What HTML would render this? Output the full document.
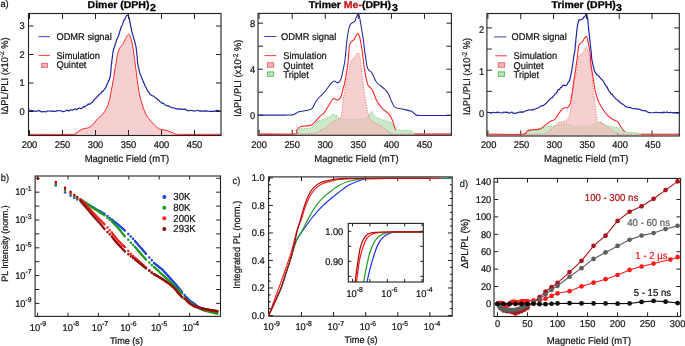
<!DOCTYPE html>
<html><head><meta charset="utf-8"><style>
html,body{margin:0;padding:0;background:#fff;}
body{width:685px;height:346px;overflow:hidden;}
svg{display:block;font-family:"Liberation Sans", sans-serif;will-change:transform;}
text{stroke-width:0.22px;text-rendering:geometricPrecision;}
text:not([stroke]){stroke:#141414;}
</style></head><body>
<svg width="685" height="346" viewBox="0 0 685 346">
<rect width="685" height="346" fill="#fff"/>
<path d="M29,134.3 C36.17,134.3 64.17,134.52 72,134.3 C79.83,134.08 74.47,133.78 76,133 C77.53,132.22 79.7,130.37 81.2,129.6 C82.7,128.83 83.83,128.7 85,128.4 C86.17,128.1 86.9,128.4 88.2,127.8 C89.5,127.2 91.27,126.27 92.8,124.8 C94.33,123.33 95.47,121.13 97.4,119 C99.33,116.87 102.47,114.88 104.4,112 C106.33,109.12 107.73,105.87 109,101.7 C110.27,97.53 111.2,91.18 112,87 C112.8,82.82 113.2,80.17 113.8,76.6 C114.4,73.03 114.98,69.25 115.6,65.6 C116.22,61.95 116.83,57.6 117.5,54.7 C118.17,51.8 118.8,49.82 119.6,48.2 C120.4,46.58 121.68,45.8 122.3,45 C122.92,44.2 122.72,44.52 123.3,43.4 C123.88,42.28 125.05,39.73 125.8,38.3 C126.55,36.87 127.2,35.43 127.8,34.8 C128.4,34.17 128.88,33.92 129.4,34.5 C129.92,35.08 130.4,36.65 130.9,38.3 C131.4,39.95 131.95,42.07 132.4,44.4 C132.85,46.73 133.15,49.17 133.6,52.3 C134.05,55.43 134.58,59.35 135.1,63.2 C135.62,67.05 136.2,71.55 136.7,75.4 C137.2,79.25 137.43,82.3 138.1,86.3 C138.77,90.3 139.48,94.92 140.7,99.4 C141.92,103.88 143.67,109.55 145.4,113.2 C147.13,116.85 148.98,118.78 151.1,121.3 C153.22,123.82 156.35,126.95 158.1,128.3 C159.85,129.65 160.05,129.02 161.6,129.4 C163.15,129.78 165.28,129.93 167.4,130.6 C169.52,131.27 172.38,132.78 174.3,133.4 C176.22,134.02 171.12,134.15 178.9,134.3 C186.68,134.45 213.98,134.3 221,134.3 L221,135.5 L28.5,135.5 Z" stroke="none" stroke-width="1" fill="#f2b9b9" fill-opacity="0.673"/>
<path d="M29,109.98 L30.59,110.38 L32.27,110.68 L33.99,111.13 L35.43,111.02 L36.8,111.52 L38.28,110.38 L40,111.15 L41.61,111.92 L43.52,111.51 L45.62,111.91 L47.81,110.73 L49.98,111.27 L52,110.92 L53.89,111.35 L55.74,111.37 L57.56,110.5 L59.37,110.76 L61.18,110.78 L63,111.62 L64.89,111.25 L66.85,110.17 L68.81,110.92 L70.7,109.71 L72.46,110.2 L74,109.24 L75.3,108.83 L76.91,109.78 L78.26,108.42 L79.55,108.02 L80.91,108.7 L82.26,108.01 L83.52,106.58 L84.66,107.06 L85.9,105.8 L87.11,105.3 L88.21,103.94 L89.36,104.49 L90.5,103.29 L91.97,102.49 L93.18,101.36 L94.47,99.36 L95.73,98.33 L96.89,96.98 L97.87,96.01 L98.76,94.97 L99.98,93.98 L101.06,93.2 L102,91.26 L102.99,91.31 L104.06,89.78 L104.88,88.59 L105.59,88.03 L106.2,86.27 L106.92,84.51 L107.49,83.49 L108.05,82.54 L108.57,80.34 L109.23,80.23 L109.83,77.26 L110.2,76.97 L110.47,75.52 L110.65,72.53 L110.76,72.44 L110.87,70.48 L111,69.42 L111.15,67.07 L111.31,65.52 L111.47,64.05 L111.64,63.52 L111.82,60.72 L112,59.98 L112.18,58.73 L112.36,57.25 L112.55,54.89 L112.75,53.49 L112.96,52.4 L113.2,51.51 L113.61,48.79 L114.07,48.19 L114.54,46.82 L115,45.54 L115.41,43.09 L115.94,43.02 L116.53,40.15 L117.07,39.03 L117.68,37.72 L118.11,36.97 L118.55,34.87 L118.99,34.53 L119.42,32.77 L119.86,31.2 L120.31,29.97 L120.75,28.54 L121.19,27.2 L121.8,25.67 L122.34,25.04 L122.84,24.2 L123.31,21.74 L123.97,20.04 L124.63,19.99 L125.3,17.99 L125.97,16.71 L126.86,15.31 L127.92,15.13 L128.64,16.55 L128.97,17.21 L129.23,18.42 L129.5,19.34 L129.79,22.2 L130.12,22.48 L130.47,24.88 L130.85,27.21 L131.12,27.39 L131.4,29.55 L131.7,31.17 L132.02,32.04 L132.35,33.64 L132.69,34 L133.04,35.86 L133.4,36.77 L133.78,39.1 L134.19,39.51 L134.6,40.98 L135,43.05 L135.38,44.13 L135.7,45.71 L135.96,46.42 L136.18,48.02 L136.37,49.99 L136.54,51.27 L136.71,52.68 L136.9,54.56 L137.09,55.96 L137.28,58.19 L137.46,61.03 L137.66,62.88 L137.87,64.17 L138.1,65.6 L138.36,66.8 L138.63,67.73 L139.07,69.78 L139.55,72.22 L140.08,74 L140.69,74.81 L141.33,76.95 L141.98,78.41 L142.6,79.8 L143.18,81.28 L143.75,82.95 L144.35,83.88 L145.04,85.92 L145.81,86.9 L146.63,88.82 L147.46,90.74 L148.25,91.86 L149.1,92.45 L150.05,94.44 L151.1,94.92 L152.59,96 L153.77,96.01 L155.03,97.71 L156.3,98.16 L157.53,99.65 L158.65,100.14 L159.68,101.45 L160.67,101.96 L162.19,103.29 L163.28,103.31 L164.5,104.42 L165.81,105.18 L167.17,105.91 L168.6,105.75 L170.13,107.02 L171.79,107.57 L173.6,107.78 L175.64,108.68 L177.9,109.11 L180.29,108.88 L182.71,109.3 L185.04,109.1 L187.2,110.4 L189.02,110.79 L190.56,110.26 L192.01,110.71 L193.6,110.84 L195.53,110.95 L198,110.21 L199.56,111.17 L201.39,110.93 L203.43,111.11 L205.61,110.79 L207.88,111.14 L210.18,111.41 L212.43,111.25 L214.59,111.41 L216.58,110.41 L218.36,110.64 L219.85,111.09 L221,111.43" stroke="#1f27a3" stroke-width="1.2" fill="none" stroke-linejoin="round"/>
<path d="M29,134.3 C36.17,134.3 64.17,134.52 72,134.3 C79.83,134.08 74.47,133.78 76,133 C77.53,132.22 79.7,130.37 81.2,129.6 C82.7,128.83 83.83,128.7 85,128.4 C86.17,128.1 86.9,128.4 88.2,127.8 C89.5,127.2 91.27,126.27 92.8,124.8 C94.33,123.33 95.47,121.13 97.4,119 C99.33,116.87 102.47,114.88 104.4,112 C106.33,109.12 107.73,105.87 109,101.7 C110.27,97.53 111.2,91.18 112,87 C112.8,82.82 113.2,80.17 113.8,76.6 C114.4,73.03 114.98,69.25 115.6,65.6 C116.22,61.95 116.83,57.6 117.5,54.7 C118.17,51.8 118.8,49.82 119.6,48.2 C120.4,46.58 121.68,45.8 122.3,45 C122.92,44.2 122.72,44.52 123.3,43.4 C123.88,42.28 125.05,39.73 125.8,38.3 C126.55,36.87 127.2,35.43 127.8,34.8 C128.4,34.17 128.88,33.92 129.4,34.5 C129.92,35.08 130.4,36.65 130.9,38.3 C131.4,39.95 131.95,42.07 132.4,44.4 C132.85,46.73 133.15,49.17 133.6,52.3 C134.05,55.43 134.58,59.35 135.1,63.2 C135.62,67.05 136.2,71.55 136.7,75.4 C137.2,79.25 137.43,82.3 138.1,86.3 C138.77,90.3 139.48,94.92 140.7,99.4 C141.92,103.88 143.67,109.55 145.4,113.2 C147.13,116.85 148.98,118.78 151.1,121.3 C153.22,123.82 156.35,126.95 158.1,128.3 C159.85,129.65 160.05,129.02 161.6,129.4 C163.15,129.78 165.28,129.93 167.4,130.6 C169.52,131.27 172.38,132.78 174.3,133.4 C176.22,134.02 171.12,134.15 178.9,134.3 C186.68,134.45 213.98,134.3 221,134.3" stroke="#ff2828" stroke-width="1.0" fill="none" />
<rect x="28.5" y="13.5" width="192.5" height="122" fill="none" stroke="#222" stroke-width="1.1"/>
<line x1="29.5" y1="135.5" x2="29.5" y2="130" stroke="#222" stroke-width="1.0"/>
<line x1="29.5" y1="13.5" x2="29.5" y2="19" stroke="#222" stroke-width="1.0"/>
<line x1="62.5" y1="135.5" x2="62.5" y2="130" stroke="#222" stroke-width="1.0"/>
<line x1="62.5" y1="13.5" x2="62.5" y2="19" stroke="#222" stroke-width="1.0"/>
<line x1="95.5" y1="135.5" x2="95.5" y2="130" stroke="#222" stroke-width="1.0"/>
<line x1="95.5" y1="13.5" x2="95.5" y2="19" stroke="#222" stroke-width="1.0"/>
<line x1="128.5" y1="135.5" x2="128.5" y2="130" stroke="#222" stroke-width="1.0"/>
<line x1="128.5" y1="13.5" x2="128.5" y2="19" stroke="#222" stroke-width="1.0"/>
<line x1="161.5" y1="135.5" x2="161.5" y2="130" stroke="#222" stroke-width="1.0"/>
<line x1="161.5" y1="13.5" x2="161.5" y2="19" stroke="#222" stroke-width="1.0"/>
<line x1="194.5" y1="135.5" x2="194.5" y2="130" stroke="#222" stroke-width="1.0"/>
<line x1="194.5" y1="13.5" x2="194.5" y2="19" stroke="#222" stroke-width="1.0"/>
<line x1="28.5" y1="111.5" x2="33.5" y2="111.5" stroke="#222" stroke-width="1.0"/>
<line x1="221" y1="111.5" x2="216" y2="111.5" stroke="#222" stroke-width="1.0"/>
<line x1="28.5" y1="83" x2="33.5" y2="83" stroke="#222" stroke-width="1.0"/>
<line x1="221" y1="83" x2="216" y2="83" stroke="#222" stroke-width="1.0"/>
<line x1="28.5" y1="54.5" x2="33.5" y2="54.5" stroke="#222" stroke-width="1.0"/>
<line x1="221" y1="54.5" x2="216" y2="54.5" stroke="#222" stroke-width="1.0"/>
<line x1="28.5" y1="26" x2="33.5" y2="26" stroke="#222" stroke-width="1.0"/>
<line x1="221" y1="26" x2="216" y2="26" stroke="#222" stroke-width="1.0"/>
<text transform="translate(29.5,147.5) scale(0.95,1)" font-size="9.8" text-anchor="middle" fill="#141414" stroke="#141414" font-weight="normal" >200</text>
<text transform="translate(62.5,147.5) scale(0.95,1)" font-size="9.8" text-anchor="middle" fill="#141414" stroke="#141414" font-weight="normal" >250</text>
<text transform="translate(95.5,147.5) scale(0.95,1)" font-size="9.8" text-anchor="middle" fill="#141414" stroke="#141414" font-weight="normal" >300</text>
<text transform="translate(128.5,147.5) scale(0.95,1)" font-size="9.8" text-anchor="middle" fill="#141414" stroke="#141414" font-weight="normal" >350</text>
<text transform="translate(161.5,147.5) scale(0.95,1)" font-size="9.8" text-anchor="middle" fill="#141414" stroke="#141414" font-weight="normal" >400</text>
<text transform="translate(194.5,147.5) scale(0.95,1)" font-size="9.8" text-anchor="middle" fill="#141414" stroke="#141414" font-weight="normal" >450</text>
<text transform="translate(24.8,114.8) scale(0.95,1)" font-size="9.8" text-anchor="end" fill="#141414" stroke="#141414" font-weight="normal" >0</text>
<text transform="translate(24.8,86.3) scale(0.95,1)" font-size="9.8" text-anchor="end" fill="#141414" stroke="#141414" font-weight="normal" >1</text>
<text transform="translate(24.8,57.8) scale(0.95,1)" font-size="9.8" text-anchor="end" fill="#141414" stroke="#141414" font-weight="normal" >2</text>
<text transform="translate(24.8,29.3) scale(0.95,1)" font-size="9.8" text-anchor="end" fill="#141414" stroke="#141414" font-weight="normal" >3</text>
<text transform="translate(126.9,162.2) scale(0.95,1)" font-size="10.01" text-anchor="middle" fill="#141414" stroke="#141414" font-weight="normal" >Magnetic Field (mT)</text>
<text transform="translate(7.6,76) rotate(-90) scale(0.95,1)" font-size="9.8" text-anchor="middle" fill="#141414" stroke="#141414" font-weight="normal" >IΔPL/PLI (x10<tspan font-size="6.9" dy="-3.4">-2</tspan><tspan dy="3.4"> %)</tspan></text>
<text transform="translate(87.6,8.1) scale(1.06,1)" font-size="9.92" text-anchor="start" fill="#000" stroke="#000" font-weight="bold" style="stroke-width:0.3px">Dimer (DPH)</text>
<text transform="translate(149.9,10.6) scale(1.06,1)" font-size="10.02" text-anchor="start" fill="#000" stroke="#000" font-weight="bold" style="stroke-width:0.3px">2</text>
<text transform="translate(0.4,7.1) scale(0.95,1)" font-size="9.8" text-anchor="start" fill="#141414" stroke="#141414" font-weight="normal" >a)</text>
<line x1="38.4" y1="36.7" x2="49.9" y2="36.7" stroke="#3b48bb" stroke-width="1.0"/>
<text transform="translate(56.4,39.9) scale(0.95,1)" font-size="9.8" text-anchor="start" fill="#141414" stroke="#141414" font-weight="normal" >ODMR signal</text>
<line x1="38.4" y1="55.4" x2="49.9" y2="55.4" stroke="#ff3c3c" stroke-width="1.0"/>
<text transform="translate(56.4,58.5) scale(0.95,1)" font-size="9.8" text-anchor="start" fill="#141414" stroke="#141414" font-weight="normal" >Simulation</text>
<rect x="41.6" y="63.3" width="5.8" height="4.0" fill="#f2b8b8" stroke="#e86060" stroke-width="0.9"/>
<text transform="translate(56.4,68) scale(0.95,1)" font-size="9.8" text-anchor="start" fill="#141414" stroke="#141414" font-weight="normal" >Quintet</text>
<line x1="259.1" y1="135.3" x2="259.1" y2="129.8" stroke="#222" stroke-width="1.0"/>
<line x1="259.1" y1="13.4" x2="259.1" y2="18.9" stroke="#222" stroke-width="1.0"/>
<line x1="292.18" y1="135.3" x2="292.18" y2="129.8" stroke="#222" stroke-width="1.0"/>
<line x1="292.18" y1="13.4" x2="292.18" y2="18.9" stroke="#222" stroke-width="1.0"/>
<line x1="325.25" y1="135.3" x2="325.25" y2="129.8" stroke="#222" stroke-width="1.0"/>
<line x1="325.25" y1="13.4" x2="325.25" y2="18.9" stroke="#222" stroke-width="1.0"/>
<line x1="358.33" y1="135.3" x2="358.33" y2="129.8" stroke="#222" stroke-width="1.0"/>
<line x1="358.33" y1="13.4" x2="358.33" y2="18.9" stroke="#222" stroke-width="1.0"/>
<line x1="391.4" y1="135.3" x2="391.4" y2="129.8" stroke="#222" stroke-width="1.0"/>
<line x1="391.4" y1="13.4" x2="391.4" y2="18.9" stroke="#222" stroke-width="1.0"/>
<line x1="424.48" y1="135.3" x2="424.48" y2="129.8" stroke="#222" stroke-width="1.0"/>
<line x1="424.48" y1="13.4" x2="424.48" y2="18.9" stroke="#222" stroke-width="1.0"/>
<line x1="258" y1="115.2" x2="263" y2="115.2" stroke="#222" stroke-width="1.0"/>
<line x1="451.4" y1="115.2" x2="446.4" y2="115.2" stroke="#222" stroke-width="1.0"/>
<line x1="258" y1="92.2" x2="263" y2="92.2" stroke="#222" stroke-width="1.0"/>
<line x1="451.4" y1="92.2" x2="446.4" y2="92.2" stroke="#222" stroke-width="1.0"/>
<line x1="258" y1="69.2" x2="263" y2="69.2" stroke="#222" stroke-width="1.0"/>
<line x1="451.4" y1="69.2" x2="446.4" y2="69.2" stroke="#222" stroke-width="1.0"/>
<line x1="258" y1="46.2" x2="263" y2="46.2" stroke="#222" stroke-width="1.0"/>
<line x1="451.4" y1="46.2" x2="446.4" y2="46.2" stroke="#222" stroke-width="1.0"/>
<line x1="258" y1="23.2" x2="263" y2="23.2" stroke="#222" stroke-width="1.0"/>
<line x1="451.4" y1="23.2" x2="446.4" y2="23.2" stroke="#222" stroke-width="1.0"/>
<path d="M258.5,134 C264.42,134 287.58,134.62 294,134 C300.42,133.38 296,131.17 297,130.3 C298,129.43 298.75,129.08 300,128.8 C301.25,128.52 302.73,128.75 304.5,128.6 C306.27,128.45 308.97,128.53 310.6,127.9 C312.23,127.27 313.18,125.9 314.3,124.8 C315.42,123.7 315.92,122.17 317.3,121.3 C318.68,120.43 320.72,120.27 322.6,119.6 C324.48,118.93 326.85,118.18 328.6,117.3 C330.35,116.42 331.72,114.55 333.1,114.3 C334.48,114.05 335.77,115.17 336.9,115.8 C338.03,116.43 338.55,117.55 339.9,118.1 C341.25,118.65 342.48,118.92 345,119.1 C347.52,119.28 352,119.25 355,119.2 C358,119.15 360.92,119.08 363,118.8 C365.08,118.52 366.1,118.67 367.5,117.5 C368.9,116.33 370.08,111.93 371.4,111.8 C372.72,111.67 373.57,115.38 375.4,116.7 C377.23,118.02 379.88,118.82 382.4,119.7 C384.92,120.58 388.73,121.12 390.5,122 C392.27,122.88 392.23,123.77 393,125 C393.77,126.23 393.93,128.53 395.1,129.4 C396.27,130.27 397.5,130.02 400,130.2 C402.5,130.38 407.63,129.95 410.1,130.5 C412.57,131.05 413.48,132.92 414.8,133.5 C416.12,134.08 411.97,133.92 418,134 C424.03,134.08 445.5,134 451,134 L451,135 L258.5,135 Z" stroke="none" stroke-width="1" fill="#cbe9cb" />
<path d="M258.5,134 C264.42,134 287.58,134.62 294,134 C300.42,133.38 296,131.17 297,130.3 C298,129.43 298.75,129.08 300,128.8 C301.25,128.52 302.73,128.75 304.5,128.6 C306.27,128.45 308.97,128.53 310.6,127.9 C312.23,127.27 313.18,125.9 314.3,124.8 C315.42,123.7 315.92,122.17 317.3,121.3 C318.68,120.43 320.72,120.27 322.6,119.6 C324.48,118.93 326.85,118.18 328.6,117.3 C330.35,116.42 331.72,114.55 333.1,114.3 C334.48,114.05 335.77,115.17 336.9,115.8 C338.03,116.43 338.55,117.55 339.9,118.1 C341.25,118.65 342.48,118.92 345,119.1 C347.52,119.28 352,119.25 355,119.2 C358,119.15 360.92,119.08 363,118.8 C365.08,118.52 366.1,118.67 367.5,117.5 C368.9,116.33 370.08,111.93 371.4,111.8 C372.72,111.67 373.57,115.38 375.4,116.7 C377.23,118.02 379.88,118.82 382.4,119.7 C384.92,120.58 388.73,121.12 390.5,122 C392.27,122.88 392.23,123.77 393,125 C393.77,126.23 393.93,128.53 395.1,129.4 C396.27,130.27 397.5,130.02 400,130.2 C402.5,130.38 407.63,129.95 410.1,130.5 C412.57,131.05 413.48,132.92 414.8,133.5 C416.12,134.08 411.97,133.92 418,134 C424.03,134.08 445.5,134 451,134" stroke="#55bb55" stroke-width="0.9" fill="none" stroke-dasharray="1,1.6"/>
<path d="M258.5,134 C264.42,134 286.25,134.03 294,134 C301.75,133.97 301.48,133.95 305,133.8 C308.52,133.65 312.42,133.72 315.1,133.1 C317.78,132.48 319.35,130.97 321.1,130.1 C322.85,129.23 324.1,128.9 325.6,127.9 C327.1,126.9 328.6,125.23 330.1,124.1 C331.6,122.97 333.1,121.98 334.6,121.1 C336.1,120.22 337.97,119.8 339.1,118.8 C340.23,117.8 340.72,118.23 341.4,115.1 C342.08,111.97 342.5,105.02 343.2,100 C343.9,94.98 344.78,89.28 345.6,85 C346.42,80.72 347.28,78.12 348.1,74.3 C348.92,70.48 349.7,64.63 350.5,62.1 C351.3,59.57 352.08,60.1 352.9,59.1 C353.72,58.1 354.62,57.12 355.4,56.1 C356.18,55.08 356.9,53.2 357.6,53 C358.3,52.8 359.07,53.17 359.6,54.9 C360.13,56.63 360.4,60.17 360.8,63.4 C361.2,66.63 361.53,70.47 362,74.3 C362.47,78.13 363.07,82.45 363.6,86.4 C364.13,90.35 364.67,94.4 365.2,98 C365.73,101.6 366.23,105.17 366.8,108 C367.37,110.83 367.92,112.97 368.6,115 C369.28,117.03 369.75,118.83 370.9,120.2 C372.05,121.57 373.98,122.33 375.5,123.2 C377.02,124.07 378.08,124.22 380,125.4 C381.92,126.58 385.07,128.95 387,130.3 C388.93,131.65 390.1,132.88 391.6,133.5 C393.1,134.12 386.1,133.92 396,134 C405.9,134.08 441.83,134 451,134 L451,135 L258.5,135 Z" stroke="none" stroke-width="1" fill="#f2b9b9" fill-opacity="0.673"/>
<path d="M258.5,134 C264.42,134 286.25,134.03 294,134 C301.75,133.97 301.48,133.95 305,133.8 C308.52,133.65 312.42,133.72 315.1,133.1 C317.78,132.48 319.35,130.97 321.1,130.1 C322.85,129.23 324.1,128.9 325.6,127.9 C327.1,126.9 328.6,125.23 330.1,124.1 C331.6,122.97 333.1,121.98 334.6,121.1 C336.1,120.22 337.97,119.8 339.1,118.8 C340.23,117.8 340.72,118.23 341.4,115.1 C342.08,111.97 342.5,105.02 343.2,100 C343.9,94.98 344.78,89.28 345.6,85 C346.42,80.72 347.28,78.12 348.1,74.3 C348.92,70.48 349.7,64.63 350.5,62.1 C351.3,59.57 352.08,60.1 352.9,59.1 C353.72,58.1 354.62,57.12 355.4,56.1 C356.18,55.08 356.9,53.2 357.6,53 C358.3,52.8 359.07,53.17 359.6,54.9 C360.13,56.63 360.4,60.17 360.8,63.4 C361.2,66.63 361.53,70.47 362,74.3 C362.47,78.13 363.07,82.45 363.6,86.4 C364.13,90.35 364.67,94.4 365.2,98 C365.73,101.6 366.23,105.17 366.8,108 C367.37,110.83 367.92,112.97 368.6,115 C369.28,117.03 369.75,118.83 370.9,120.2 C372.05,121.57 373.98,122.33 375.5,123.2 C377.02,124.07 378.08,124.22 380,125.4 C381.92,126.58 385.07,128.95 387,130.3 C388.93,131.65 390.1,132.88 391.6,133.5 C393.1,134.12 386.1,133.92 396,134 C405.9,134.08 441.83,134 451,134" stroke="#e86060" stroke-width="0.9" fill="none" stroke-dasharray="1,1.6"/>
<path d="M258.5,115.1 C262.92,115.1 279.58,115.12 285,115.1 C290.42,115.08 289.5,115.12 291,115 C292.5,114.88 293.08,114.73 294,114.4 C294.92,114.07 295.67,113.45 296.5,113 C297.33,112.55 297.92,112.03 299,111.7 C300.08,111.37 301.57,111.23 303,111 C304.43,110.77 306.22,110.62 307.6,110.3 C308.98,109.98 310.3,109.8 311.3,109.1 C312.3,108.4 312.85,107.37 313.6,106.1 C314.35,104.83 314.8,103.02 315.8,101.5 C316.8,99.98 318.22,98.5 319.6,97 C320.98,95.5 322.8,93.95 324.1,92.5 C325.4,91.05 326.23,89.82 327.4,88.3 C328.57,86.78 329.98,84.62 331.1,83.4 C332.22,82.18 333.1,81.13 334.1,81 C335.1,80.87 336.18,82.5 337.1,82.6 C338.02,82.7 338.88,82.38 339.6,81.6 C340.32,80.82 340.8,79.93 341.4,77.9 C342,75.87 342.6,72.43 343.2,69.4 C343.8,66.37 344.37,64.62 345,59.7 C345.63,54.78 346.37,45.02 347,39.9 C347.63,34.78 348.2,31.63 348.8,29 C349.4,26.37 349.88,25.22 350.6,24.1 C351.32,22.98 352.38,22.8 353.1,22.3 C353.82,21.8 354.4,21.8 354.9,21.1 C355.4,20.4 355.6,19.32 356.1,18.1 C356.6,16.88 357.38,14.22 357.9,13.8 C358.42,13.38 358.78,14.28 359.2,15.6 C359.62,16.92 360,19.47 360.4,21.7 C360.8,23.93 361.1,25.97 361.6,29 C362.1,32.03 362.92,36.4 363.4,39.9 C363.88,43.4 364.12,47.1 364.5,50 C364.88,52.9 365.3,54.67 365.7,57.3 C366.1,59.93 366.4,63.68 366.9,65.8 C367.4,67.92 367.98,68.98 368.7,70 C369.42,71.02 370.48,71.08 371.2,71.9 C371.92,72.72 372.3,73.48 373,74.9 C373.7,76.32 374.5,78.88 375.4,80.4 C376.3,81.92 377.28,82.9 378.4,84 C379.52,85.1 381,86.08 382.1,87 C383.2,87.92 383.98,88.42 385,89.5 C386.02,90.58 387.1,91.48 388.2,93.5 C389.3,95.52 390.45,99.28 391.6,101.6 C392.75,103.92 393.17,106.12 395.1,107.4 C397.03,108.68 400.5,108.65 403.2,109.3 C405.9,109.95 409.18,110.38 411.3,111.3 C413.42,112.22 414.45,114.12 415.9,114.8 C417.35,115.48 414.15,115.3 420,115.4 C425.85,115.5 445.83,115.4 451,115.4" stroke="#1f27a3" stroke-width="1.05" fill="none" />
<path d="M258.5,134 C264.42,134 287.7,134.52 294,134 C300.3,133.48 295.42,132.05 296.3,130.9 C297.18,129.75 298.18,127.9 299.3,127.1 C300.42,126.3 301.62,126.3 303,126.1 C304.38,125.9 306.13,126.12 307.6,125.9 C309.07,125.68 310.55,125.48 311.8,124.8 C313.05,124.12 313.8,123.17 315.1,121.8 C316.4,120.43 318.1,118.1 319.6,116.6 C321.1,115.1 322.72,114.43 324.1,112.8 C325.48,111.17 326.65,108.8 327.9,106.8 C329.15,104.8 330.6,102.18 331.6,100.8 C332.6,99.42 333.02,98.63 333.9,98.5 C334.78,98.37 336.03,99.87 336.9,100 C337.77,100.13 338.35,100.05 339.1,99.3 C339.85,98.55 340.77,97.13 341.4,95.5 C342.03,93.87 342.4,91.42 342.9,89.5 C343.4,87.58 343.83,86.53 344.4,84 C344.97,81.47 345.68,77.95 346.3,74.3 C346.92,70.65 347.58,66.82 348.1,62.1 C348.62,57.38 348.87,49.38 349.4,46 C349.93,42.62 350.58,42.82 351.3,41.8 C352.02,40.78 353,40.72 353.7,39.9 C354.4,39.08 354.9,37.9 355.5,36.9 C356.1,35.9 356.8,34.37 357.3,33.9 C357.8,33.43 358.08,33.5 358.5,34.1 C358.92,34.7 359.38,35.92 359.8,37.5 C360.22,39.08 360.63,41.52 361,43.6 C361.37,45.68 361.62,47.32 362,50 C362.38,52.68 362.88,56.47 363.3,59.7 C363.72,62.93 364,66.15 364.5,69.4 C365,72.65 365.7,76.57 366.3,79.2 C366.9,81.83 367.4,83.78 368.1,85.2 C368.8,86.62 369.68,86.68 370.5,87.7 C371.32,88.72 371.98,89.17 373,91.3 C374.02,93.43 375.03,97.62 376.6,100.5 C378.17,103.38 380.28,106.3 382.4,108.6 C384.52,110.9 387.57,112.18 389.3,114.3 C391.03,116.42 391.83,118.87 392.8,121.3 C393.77,123.73 394.53,127.52 395.1,128.9 C395.67,130.28 396.02,129.48 396.2,129.6" stroke="#ff2828" stroke-width="1.1" fill="none" />
<path d="M414.8,134 L451,134" stroke="#ff2828" stroke-width="1.1" fill="none" />
<rect x="258" y="13.4" width="193.4" height="121.9" fill="none" stroke="#222" stroke-width="1.1"/>
<text transform="translate(259.1,147.5) scale(0.95,1)" font-size="9.8" text-anchor="middle" fill="#141414" stroke="#141414" font-weight="normal" >200</text>
<text transform="translate(292.18,147.5) scale(0.95,1)" font-size="9.8" text-anchor="middle" fill="#141414" stroke="#141414" font-weight="normal" >250</text>
<text transform="translate(325.25,147.5) scale(0.95,1)" font-size="9.8" text-anchor="middle" fill="#141414" stroke="#141414" font-weight="normal" >300</text>
<text transform="translate(358.33,147.5) scale(0.95,1)" font-size="9.8" text-anchor="middle" fill="#141414" stroke="#141414" font-weight="normal" >350</text>
<text transform="translate(391.4,147.5) scale(0.95,1)" font-size="9.8" text-anchor="middle" fill="#141414" stroke="#141414" font-weight="normal" >400</text>
<text transform="translate(424.48,147.5) scale(0.95,1)" font-size="9.8" text-anchor="middle" fill="#141414" stroke="#141414" font-weight="normal" >450</text>
<text transform="translate(255.3,119.3) scale(0.95,1)" font-size="9.8" text-anchor="end" fill="#141414" stroke="#141414" font-weight="normal" >0</text>
<text transform="translate(255.3,73.3) scale(0.95,1)" font-size="9.8" text-anchor="end" fill="#141414" stroke="#141414" font-weight="normal" >4</text>
<text transform="translate(255.3,27.3) scale(0.95,1)" font-size="9.8" text-anchor="end" fill="#141414" stroke="#141414" font-weight="normal" >8</text>
<text transform="translate(356.5,162.2) scale(0.95,1)" font-size="10.01" text-anchor="middle" fill="#141414" stroke="#141414" font-weight="normal" >Magnetic Field (mT)</text>
<text transform="translate(241.2,78.2) rotate(-90) scale(0.95,1)" font-size="9.8" text-anchor="middle" fill="#141414" stroke="#141414" font-weight="normal" >IΔPL/PLI (x10<tspan font-size="6.9" dy="-3.4">-2</tspan><tspan dy="3.4"> %)</tspan></text>
<text transform="translate(308.8,8.1) scale(1.06,1)" font-size="9.92" text-anchor="start" fill="#000" stroke="#000" font-weight="bold" style="stroke-width:0.3px">Trimer <tspan fill="#c41a1a" stroke="#c41a1a">Me-</tspan>(DPH)</text>
<text transform="translate(391.9,10.6) scale(1.06,1)" font-size="10.02" text-anchor="start" fill="#000" stroke="#000" font-weight="bold" style="stroke-width:0.3px">3</text>
<line x1="264.3" y1="36.5" x2="276.5" y2="36.5" stroke="#3b48bb" stroke-width="1.0"/>
<text transform="translate(281,39.8) scale(0.95,1)" font-size="9.8" text-anchor="start" fill="#141414" stroke="#141414" font-weight="normal" >ODMR signal</text>
<line x1="264.5" y1="55.6" x2="276.3" y2="55.6" stroke="#ff3c3c" stroke-width="1.0"/>
<text transform="translate(283.3,58.8) scale(0.95,1)" font-size="9.8" text-anchor="start" fill="#141414" stroke="#141414" font-weight="normal" >Simulation</text>
<rect x="267.4" y="62.8" width="6.3" height="4.4" fill="#f2b8b8" stroke="#e86060" stroke-width="0.9"/>
<text transform="translate(283.3,68.5) scale(0.95,1)" font-size="9.8" text-anchor="start" fill="#141414" stroke="#141414" font-weight="normal" >Quintet</text>
<rect x="267.4" y="71.9" width="6.3" height="4.4" fill="#bfe3bf" stroke="#55bb55" stroke-width="0.9"/>
<text transform="translate(283.3,77.6) scale(0.95,1)" font-size="9.8" text-anchor="start" fill="#141414" stroke="#141414" font-weight="normal" >Triplet</text>
<line x1="487.9" y1="136" x2="487.9" y2="130.5" stroke="#222" stroke-width="1.0"/>
<line x1="487.9" y1="13.5" x2="487.9" y2="19" stroke="#222" stroke-width="1.0"/>
<line x1="520.74" y1="136" x2="520.74" y2="130.5" stroke="#222" stroke-width="1.0"/>
<line x1="520.74" y1="13.5" x2="520.74" y2="19" stroke="#222" stroke-width="1.0"/>
<line x1="553.57" y1="136" x2="553.57" y2="130.5" stroke="#222" stroke-width="1.0"/>
<line x1="553.57" y1="13.5" x2="553.57" y2="19" stroke="#222" stroke-width="1.0"/>
<line x1="586.4" y1="136" x2="586.4" y2="130.5" stroke="#222" stroke-width="1.0"/>
<line x1="586.4" y1="13.5" x2="586.4" y2="19" stroke="#222" stroke-width="1.0"/>
<line x1="619.24" y1="136" x2="619.24" y2="130.5" stroke="#222" stroke-width="1.0"/>
<line x1="619.24" y1="13.5" x2="619.24" y2="19" stroke="#222" stroke-width="1.0"/>
<line x1="652.07" y1="136" x2="652.07" y2="130.5" stroke="#222" stroke-width="1.0"/>
<line x1="652.07" y1="13.5" x2="652.07" y2="19" stroke="#222" stroke-width="1.0"/>
<line x1="486.9" y1="112.5" x2="491.9" y2="112.5" stroke="#222" stroke-width="1.0"/>
<line x1="679.3" y1="112.5" x2="674.3" y2="112.5" stroke="#222" stroke-width="1.0"/>
<line x1="486.9" y1="91.35" x2="491.9" y2="91.35" stroke="#222" stroke-width="1.0"/>
<line x1="679.3" y1="91.35" x2="674.3" y2="91.35" stroke="#222" stroke-width="1.0"/>
<line x1="486.9" y1="70.2" x2="491.9" y2="70.2" stroke="#222" stroke-width="1.0"/>
<line x1="679.3" y1="70.2" x2="674.3" y2="70.2" stroke="#222" stroke-width="1.0"/>
<line x1="486.9" y1="49.05" x2="491.9" y2="49.05" stroke="#222" stroke-width="1.0"/>
<line x1="679.3" y1="49.05" x2="674.3" y2="49.05" stroke="#222" stroke-width="1.0"/>
<line x1="486.9" y1="27.9" x2="491.9" y2="27.9" stroke="#222" stroke-width="1.0"/>
<line x1="679.3" y1="27.9" x2="674.3" y2="27.9" stroke="#222" stroke-width="1.0"/>
<path d="M487.2,134.2 C493,134.2 515.28,134.62 522,134.2 C528.72,133.78 525.23,132.45 527.5,131.7 C529.77,130.95 533.23,130.37 535.6,129.7 C537.97,129.03 539.68,128.2 541.7,127.7 C543.72,127.2 545.35,127.03 547.7,126.7 C550.05,126.37 553.1,126.22 555.8,125.7 C558.5,125.18 561.2,123.6 563.9,123.6 C566.6,123.6 569.32,125.25 572,125.7 C574.68,126.15 577.12,126.27 580,126.3 C582.88,126.33 586.22,126.58 589.3,125.9 C592.38,125.22 595.42,122.2 598.5,122.2 C601.58,122.2 604.72,125.02 607.8,125.9 C610.88,126.78 614.32,126.53 617,127.5 C619.68,128.47 621.73,130.85 623.9,131.7 C626.07,132.55 627.68,132.42 630,132.6 C632.32,132.78 635.53,132.53 637.8,132.8 C640.07,133.07 636.67,133.97 643.6,134.2 C650.53,134.43 673.43,134.2 679.4,134.2 L679.4,135.5 L487.2,135.5 Z" stroke="none" stroke-width="1" fill="#cbe9cb" />
<path d="M487.2,134.2 C493,134.2 515.28,134.62 522,134.2 C528.72,133.78 525.23,132.45 527.5,131.7 C529.77,130.95 533.23,130.37 535.6,129.7 C537.97,129.03 539.68,128.2 541.7,127.7 C543.72,127.2 545.35,127.03 547.7,126.7 C550.05,126.37 553.1,126.22 555.8,125.7 C558.5,125.18 561.2,123.6 563.9,123.6 C566.6,123.6 569.32,125.25 572,125.7 C574.68,126.15 577.12,126.27 580,126.3 C582.88,126.33 586.22,126.58 589.3,125.9 C592.38,125.22 595.42,122.2 598.5,122.2 C601.58,122.2 604.72,125.02 607.8,125.9 C610.88,126.78 614.32,126.53 617,127.5 C619.68,128.47 621.73,130.85 623.9,131.7 C626.07,132.55 627.68,132.42 630,132.6 C632.32,132.78 635.53,132.53 637.8,132.8 C640.07,133.07 636.67,133.97 643.6,134.2 C650.53,134.43 673.43,134.2 679.4,134.2" stroke="#55bb55" stroke-width="0.9" fill="none" stroke-dasharray="1,1.6"/>
<path d="M487.2,134.2 C493,134.2 514.03,134.23 522,134.2 C529.97,134.17 531.38,134.07 535,134 C538.62,133.93 541.53,134.17 543.7,133.8 C545.87,133.43 546.32,132.85 548,131.8 C549.68,130.75 552.25,128.92 553.8,127.5 C555.35,126.08 555.98,124.25 557.3,123.3 C558.62,122.35 560.25,122.28 561.7,121.8 C563.15,121.32 564.8,121.23 566,120.4 C567.2,119.57 568.05,119.08 568.9,116.8 C569.75,114.52 570.5,110.8 571.1,106.7 C571.7,102.6 571.97,96.32 572.5,92.2 C573.03,88.08 573.7,84.98 574.3,82 C574.9,79.02 575.4,78.42 576.1,74.3 C576.8,70.18 577.68,60.63 578.5,57.3 C579.32,53.97 580.08,55.32 581,54.3 C581.92,53.28 583.17,52.35 584,51.2 C584.83,50.05 585.18,47 586,47.4 C586.82,47.8 588.22,51.15 588.9,53.6 C589.58,56.05 589.6,58.65 590.1,62.1 C590.6,65.55 591.4,70.15 591.9,74.3 C592.4,78.45 592.67,82.83 593.1,87 C593.53,91.17 593.8,93.78 594.5,99.3 C595.2,104.82 596.25,116.25 597.3,120.1 C598.35,123.95 599.05,121.23 600.8,122.4 C602.55,123.57 605.48,125.55 607.8,127.1 C610.12,128.65 612.83,130.58 614.7,131.7 C616.57,132.82 617.85,133.38 619,133.8 C620.15,134.22 611.53,134.13 621.6,134.2 C631.67,134.27 669.77,134.2 679.4,134.2 L679.4,135.5 L487.2,135.5 Z" stroke="none" stroke-width="1" fill="#f2b9b9" fill-opacity="0.673"/>
<path d="M487.2,134.2 C493,134.2 514.03,134.23 522,134.2 C529.97,134.17 531.38,134.07 535,134 C538.62,133.93 541.53,134.17 543.7,133.8 C545.87,133.43 546.32,132.85 548,131.8 C549.68,130.75 552.25,128.92 553.8,127.5 C555.35,126.08 555.98,124.25 557.3,123.3 C558.62,122.35 560.25,122.28 561.7,121.8 C563.15,121.32 564.8,121.23 566,120.4 C567.2,119.57 568.05,119.08 568.9,116.8 C569.75,114.52 570.5,110.8 571.1,106.7 C571.7,102.6 571.97,96.32 572.5,92.2 C573.03,88.08 573.7,84.98 574.3,82 C574.9,79.02 575.4,78.42 576.1,74.3 C576.8,70.18 577.68,60.63 578.5,57.3 C579.32,53.97 580.08,55.32 581,54.3 C581.92,53.28 583.17,52.35 584,51.2 C584.83,50.05 585.18,47 586,47.4 C586.82,47.8 588.22,51.15 588.9,53.6 C589.58,56.05 589.6,58.65 590.1,62.1 C590.6,65.55 591.4,70.15 591.9,74.3 C592.4,78.45 592.67,82.83 593.1,87 C593.53,91.17 593.8,93.78 594.5,99.3 C595.2,104.82 596.25,116.25 597.3,120.1 C598.35,123.95 599.05,121.23 600.8,122.4 C602.55,123.57 605.48,125.55 607.8,127.1 C610.12,128.65 612.83,130.58 614.7,131.7 C616.57,132.82 617.85,133.38 619,133.8 C620.15,134.22 611.53,134.13 621.6,134.2 C631.67,134.27 669.77,134.2 679.4,134.2" stroke="#e86060" stroke-width="0.9" fill="none" stroke-dasharray="1,1.6"/>
<path d="M487.2,112.33 L489.02,112.51 L491.53,113.06 L492.98,112.44 L494.51,112.52 L496.11,112.65 L497.73,112.11 L499.36,112.58 L500.97,112.76 L502.53,113 L504,112.03 L505.46,112.33 L507,112.05 L508.57,113.07 L510.17,112.92 L511.78,112.02 L513.37,113.35 L514.92,113.33 L516.41,112.89 L517.83,112.81 L519.15,112.14 L521.4,111.82 L523.05,112.34 L524.64,111.26 L526.1,110.77 L527.5,110.34 L528.78,109.72 L530.19,110 L531.66,109.63 L533.1,109.85 L534.44,109.06 L536.09,108.73 L537.29,108.09 L538.57,107.71 L540,106.64 L541.35,105.64 L542.81,105.79 L544.32,104.84 L545.8,103.58 L547.25,102.25 L548.22,100.89 L549.19,99.92 L550.16,99.11 L551.12,97.88 L552.08,97.88 L553.06,96.3 L554.05,95.81 L555.02,94.02 L555.97,93.7 L556.87,92.48 L557.72,90.31 L558.55,89.62 L559.34,89.63 L560.45,87.68 L561.42,87.34 L562.54,85.7 L563.8,85.1 L565.29,85.62 L566.5,85.5 L567.48,83.92 L568.2,82.22 L568.75,81.43 L569.38,80.94 L570.01,79.02 L570.41,76.85 L570.78,75.6 L571.13,73.7 L571.46,71.76 L571.78,70.83 L572.09,68.02 L572.37,66.72 L572.62,64.93 L572.85,63.05 L573.05,62.35 L573.24,60.12 L573.42,59.49 L573.6,57.42 L573.8,56.54 L574.01,55 L574.33,53.27 L574.64,52.48 L574.9,50.42 L575.1,47.95 L575.24,47.05 L575.39,44.23 L575.52,43.05 L575.69,42.02 L575.89,39.76 L576.1,36.84 L576.34,35.85 L576.57,32.61 L576.79,30.72 L577,29.79 L577.21,27.69 L577.41,26.31 L577.7,24.24 L578,22.77 L578.29,22.23 L578.76,20.36 L579.57,19.89 L580.79,19.79 L581.84,19.21 L582.75,18.9 L583.7,17.34 L584.66,16.56 L585.34,15.91 L585.95,13.87 L586.88,14.68 L587.31,17.23 L587.6,18.54 L587.83,19.52 L587.96,20.82 L588.08,23.08 L588.2,24.9 L588.33,25.41 L588.48,28 L588.63,29.48 L588.8,30.7 L588.97,32.09 L589.14,33.29 L589.31,34.84 L589.49,37.76 L589.67,38.4 L589.86,40.71 L590.05,41.74 L590.24,44.15 L590.42,45.39 L590.58,46.44 L590.75,47.72 L590.91,49.88 L591.06,50.31 L591.21,51.82 L591.4,54.08 L591.52,56.01 L591.59,56.98 L591.69,57.82 L591.9,60.28 L592.12,60.58 L592.4,61.78 L592.72,63.68 L593.05,65.45 L593.38,66.34 L593.7,67.75 L594.12,69.55 L594.52,71.13 L595.12,71.95 L595.94,73.42 L597.21,75 L598.32,75.89 L599.17,76.39 L600.06,77.64 L600.97,78.8 L601.89,79.48 L602.81,80.53 L603.71,81.61 L604.63,84 L605.57,85 L606.54,86.91 L607.16,86.76 L607.8,88.86 L608.48,89.91 L609.24,91.51 L610.1,92.15 L611.07,94.27 L612.11,94.12 L613.23,95.93 L614.42,97.34 L615.68,98.71 L617,99.63 L618.39,100.8 L619.84,102.2 L621.36,103.64 L622.95,104.07 L624.59,105.64 L626.3,106.86 L628.09,107.51 L629.97,107.39 L631.91,108.31 L633.88,108.75 L635.85,108.68 L637.8,109.17 L639.69,109.35 L641.55,110.19 L643.41,110.79 L645.31,110.59 L647.29,111.84 L649.4,112.69 L651.65,112.76 L654.01,112.68 L656.46,112.27 L658.96,112.78 L660.22,112.57 L661.49,112.38 L662.75,112.95 L664,111.92 L665.3,112.88 L666.7,111.89 L668.15,112.72 L669.64,112.57 L671.14,112.24 L672.61,112.91 L674.03,112.64 L675.38,112.82 L677.72,113.27 L679.4,112.36 L679.4,112.02" stroke="#1f27a3" stroke-width="1.2" fill="none" stroke-linejoin="round"/>
<path d="M487.2,134.2 C493,134.2 515.28,134.78 522,134.2 C528.72,133.62 525.57,131.45 527.5,130.7 C529.43,129.95 531.52,129.97 533.6,129.7 C535.68,129.43 537.97,129.93 540,129.1 C542.03,128.27 544,126.03 545.8,124.7 C547.6,123.37 549.35,121.93 550.8,121.1 C552.25,120.27 553.28,120.78 554.5,119.7 C555.72,118.62 556.9,116.28 558.1,114.6 C559.3,112.92 560.62,110.73 561.7,109.6 C562.78,108.47 563.63,108.13 564.6,107.8 C565.57,107.47 566.67,108.03 567.5,107.6 C568.33,107.17 569,106.55 569.6,105.2 C570.2,103.85 570.62,101.9 571.1,99.5 C571.58,97.1 572.1,93.55 572.5,90.8 C572.9,88.05 573,86.37 573.5,83 C574,79.63 574.87,74.88 575.5,70.6 C576.13,66.32 576.77,61.4 577.3,57.3 C577.83,53.2 578.17,48.33 578.7,46 C579.23,43.67 579.9,44 580.5,43.3 C581.1,42.6 581.68,42.57 582.3,41.8 C582.92,41.03 583.58,39.62 584.2,38.7 C584.82,37.78 585.5,36.4 586,36.3 C586.5,36.2 586.8,36.88 587.2,38.1 C587.6,39.32 587.9,40.95 588.4,43.6 C588.9,46.25 589.82,50.92 590.2,54 C590.58,57.08 590.32,58.72 590.7,62.1 C591.08,65.48 591.9,70.45 592.5,74.3 C593.1,78.15 593.8,82.25 594.3,85.2 C594.8,88.15 594.8,89.27 595.5,92 C596.2,94.73 597.23,98.65 598.5,101.6 C599.77,104.55 601.37,107.18 603.1,109.7 C604.83,112.22 607.17,115.03 608.9,116.7 C610.63,118.37 611.95,118.75 613.5,119.7 C615.05,120.65 616.85,120.98 618.2,122.4 C619.55,123.82 620.5,126.63 621.6,128.2 C622.7,129.77 624.27,131.2 624.8,131.8" stroke="#ff2828" stroke-width="1.1" fill="none" />
<path d="M641,134.3 L679.3,134.3" stroke="#ff2828" stroke-width="1.1" fill="none" />
<rect x="486.9" y="13.5" width="192.4" height="122.5" fill="none" stroke="#222" stroke-width="1.1"/>
<text transform="translate(488.7,148) scale(0.95,1)" font-size="9.8" text-anchor="middle" fill="#141414" stroke="#141414" font-weight="normal" >200</text>
<text transform="translate(521.53,148) scale(0.95,1)" font-size="9.8" text-anchor="middle" fill="#141414" stroke="#141414" font-weight="normal" >250</text>
<text transform="translate(554.37,148) scale(0.95,1)" font-size="9.8" text-anchor="middle" fill="#141414" stroke="#141414" font-weight="normal" >300</text>
<text transform="translate(587.2,148) scale(0.95,1)" font-size="9.8" text-anchor="middle" fill="#141414" stroke="#141414" font-weight="normal" >350</text>
<text transform="translate(620.04,148) scale(0.95,1)" font-size="9.8" text-anchor="middle" fill="#141414" stroke="#141414" font-weight="normal" >400</text>
<text transform="translate(652.87,148) scale(0.95,1)" font-size="9.8" text-anchor="middle" fill="#141414" stroke="#141414" font-weight="normal" >450</text>
<text transform="translate(484.3,117.25) scale(0.95,1)" font-size="9.8" text-anchor="end" fill="#141414" stroke="#141414" font-weight="normal" >0</text>
<text transform="translate(484.3,74.95) scale(0.95,1)" font-size="9.8" text-anchor="end" fill="#141414" stroke="#141414" font-weight="normal" >1</text>
<text transform="translate(484.3,32.65) scale(0.95,1)" font-size="9.8" text-anchor="end" fill="#141414" stroke="#141414" font-weight="normal" >2</text>
<text transform="translate(586.3,162.2) scale(0.95,1)" font-size="10.01" text-anchor="middle" fill="#141414" stroke="#141414" font-weight="normal" >Magnetic Field (mT)</text>
<text transform="translate(470.2,76.4) rotate(-90) scale(0.95,1)" font-size="9.8" text-anchor="middle" fill="#141414" stroke="#141414" font-weight="normal" >IΔPL/PLI (x10<tspan font-size="6.9" dy="-3.4">-2</tspan><tspan dy="3.4"> %)</tspan></text>
<text transform="translate(551.6,8) scale(1.06,1)" font-size="9.92" text-anchor="start" fill="#000" stroke="#000" font-weight="bold" style="stroke-width:0.3px">Trimer (DPH)</text>
<text transform="translate(615.9,10.5) scale(1.06,1)" font-size="10.02" text-anchor="start" fill="#000" stroke="#000" font-weight="bold" style="stroke-width:0.3px">3</text>
<line x1="494.2" y1="36.9" x2="506.4" y2="36.9" stroke="#3b48bb" stroke-width="1.0"/>
<text transform="translate(511.5,40.2) scale(0.95,1)" font-size="9.8" text-anchor="start" fill="#141414" stroke="#141414" font-weight="normal" >ODMR signal</text>
<line x1="495.2" y1="55.8" x2="507" y2="55.8" stroke="#ff3c3c" stroke-width="1.0"/>
<text transform="translate(513.6,59) scale(0.95,1)" font-size="9.8" text-anchor="start" fill="#141414" stroke="#141414" font-weight="normal" >Simulation</text>
<rect x="498.3" y="62.8" width="6.3" height="4.4" fill="#f2b8b8" stroke="#e86060" stroke-width="0.9"/>
<text transform="translate(513.6,68.5) scale(0.95,1)" font-size="9.8" text-anchor="start" fill="#141414" stroke="#141414" font-weight="normal" >Quintet</text>
<rect x="498.3" y="71.9" width="6.3" height="4.4" fill="#bfe3bf" stroke="#55bb55" stroke-width="0.9"/>
<text transform="translate(513.6,77.6) scale(0.95,1)" font-size="9.8" text-anchor="start" fill="#141414" stroke="#141414" font-weight="normal" >Triplet</text>
<rect x="35.1" y="176" width="185.4" height="140.4" fill="none" stroke="#222" stroke-width="1.1"/>
<line x1="37.6" y1="316.4" x2="37.6" y2="312.8" stroke="#222" stroke-width="1.0"/>
<line x1="37.6" y1="176" x2="37.6" y2="179.6" stroke="#222" stroke-width="1.0"/>
<line x1="68" y1="316.4" x2="68" y2="312.8" stroke="#222" stroke-width="1.0"/>
<line x1="68" y1="176" x2="68" y2="179.6" stroke="#222" stroke-width="1.0"/>
<line x1="98.4" y1="316.4" x2="98.4" y2="312.8" stroke="#222" stroke-width="1.0"/>
<line x1="98.4" y1="176" x2="98.4" y2="179.6" stroke="#222" stroke-width="1.0"/>
<line x1="128.8" y1="316.4" x2="128.8" y2="312.8" stroke="#222" stroke-width="1.0"/>
<line x1="128.8" y1="176" x2="128.8" y2="179.6" stroke="#222" stroke-width="1.0"/>
<line x1="159.2" y1="316.4" x2="159.2" y2="312.8" stroke="#222" stroke-width="1.0"/>
<line x1="159.2" y1="176" x2="159.2" y2="179.6" stroke="#222" stroke-width="1.0"/>
<line x1="189.6" y1="316.4" x2="189.6" y2="312.8" stroke="#222" stroke-width="1.0"/>
<line x1="189.6" y1="176" x2="189.6" y2="179.6" stroke="#222" stroke-width="1.0"/>
<line x1="35.1" y1="303.4" x2="39.4" y2="303.4" stroke="#222" stroke-width="1.0"/>
<line x1="220.5" y1="303.4" x2="216.2" y2="303.4" stroke="#222" stroke-width="1.0"/>
<line x1="35.1" y1="289.5" x2="39.4" y2="289.5" stroke="#222" stroke-width="1.0"/>
<line x1="220.5" y1="289.5" x2="216.2" y2="289.5" stroke="#222" stroke-width="1.0"/>
<line x1="35.1" y1="275.6" x2="39.4" y2="275.6" stroke="#222" stroke-width="1.0"/>
<line x1="220.5" y1="275.6" x2="216.2" y2="275.6" stroke="#222" stroke-width="1.0"/>
<line x1="35.1" y1="261.7" x2="39.4" y2="261.7" stroke="#222" stroke-width="1.0"/>
<line x1="220.5" y1="261.7" x2="216.2" y2="261.7" stroke="#222" stroke-width="1.0"/>
<line x1="35.1" y1="247.8" x2="39.4" y2="247.8" stroke="#222" stroke-width="1.0"/>
<line x1="220.5" y1="247.8" x2="216.2" y2="247.8" stroke="#222" stroke-width="1.0"/>
<line x1="35.1" y1="233.9" x2="39.4" y2="233.9" stroke="#222" stroke-width="1.0"/>
<line x1="220.5" y1="233.9" x2="216.2" y2="233.9" stroke="#222" stroke-width="1.0"/>
<line x1="35.1" y1="220" x2="39.4" y2="220" stroke="#222" stroke-width="1.0"/>
<line x1="220.5" y1="220" x2="216.2" y2="220" stroke="#222" stroke-width="1.0"/>
<line x1="35.1" y1="206.1" x2="39.4" y2="206.1" stroke="#222" stroke-width="1.0"/>
<line x1="220.5" y1="206.1" x2="216.2" y2="206.1" stroke="#222" stroke-width="1.0"/>
<line x1="35.1" y1="192.2" x2="39.4" y2="192.2" stroke="#222" stroke-width="1.0"/>
<line x1="220.5" y1="192.2" x2="216.2" y2="192.2" stroke="#222" stroke-width="1.0"/>
<line x1="35.1" y1="178.3" x2="39.4" y2="178.3" stroke="#222" stroke-width="1.0"/>
<line x1="220.5" y1="178.3" x2="216.2" y2="178.3" stroke="#222" stroke-width="1.0"/>
<text transform="translate(29.73,330.6) scale(0.95,1)" font-size="9.8" text-anchor="start" fill="#141414" stroke="#141414" font-weight="normal" >10<tspan font-size="7.17" dy="-4.4">-9</tspan></text>
<text transform="translate(62.53,330.6) scale(0.95,1)" font-size="9.8" text-anchor="start" fill="#141414" stroke="#141414" font-weight="normal" >10<tspan font-size="7.17" dy="-4.4">-8</tspan></text>
<text transform="translate(91.73,330.6) scale(0.95,1)" font-size="9.8" text-anchor="start" fill="#141414" stroke="#141414" font-weight="normal" >10<tspan font-size="7.17" dy="-4.4">-7</tspan></text>
<text transform="translate(120.13,330.6) scale(0.95,1)" font-size="9.8" text-anchor="start" fill="#141414" stroke="#141414" font-weight="normal" >10<tspan font-size="7.17" dy="-4.4">-6</tspan></text>
<text transform="translate(150.93,330.6) scale(0.95,1)" font-size="9.8" text-anchor="start" fill="#141414" stroke="#141414" font-weight="normal" >10<tspan font-size="7.17" dy="-4.4">-5</tspan></text>
<text transform="translate(182.63,330.6) scale(0.95,1)" font-size="9.8" text-anchor="start" fill="#141414" stroke="#141414" font-weight="normal" >10<tspan font-size="7.17" dy="-4.4">-4</tspan></text>
<text transform="translate(31.6,195.4) scale(0.95,1)" font-size="9.8" text-anchor="end" fill="#141414" stroke="#141414" font-weight="normal" >10<tspan font-size="7.17" dy="-4.4">-1</tspan></text>
<text transform="translate(31.6,223.2) scale(0.95,1)" font-size="9.8" text-anchor="end" fill="#141414" stroke="#141414" font-weight="normal" >10<tspan font-size="7.17" dy="-4.4">-3</tspan></text>
<text transform="translate(31.6,251) scale(0.95,1)" font-size="9.8" text-anchor="end" fill="#141414" stroke="#141414" font-weight="normal" >10<tspan font-size="7.17" dy="-4.4">-5</tspan></text>
<text transform="translate(31.6,278.8) scale(0.95,1)" font-size="9.8" text-anchor="end" fill="#141414" stroke="#141414" font-weight="normal" >10<tspan font-size="7.17" dy="-4.4">-7</tspan></text>
<text transform="translate(31.6,306.6) scale(0.95,1)" font-size="9.8" text-anchor="end" fill="#141414" stroke="#141414" font-weight="normal" >10<tspan font-size="7.17" dy="-4.4">-9</tspan></text>
<text transform="translate(126.4,343.5) scale(0.95,1)" font-size="9.59" text-anchor="middle" fill="#141414" stroke="#141414" font-weight="normal" >Time (s)</text>
<text transform="translate(8,243.5) rotate(-90) scale(0.95,1)" font-size="9.28" text-anchor="middle" fill="#141414" stroke="#141414" font-weight="normal" >PL Intensity (norm.)</text>
<text transform="translate(0.7,180.8) scale(0.95,1)" font-size="9.8" text-anchor="start" fill="#141414" stroke="#141414" font-weight="normal" >b)</text>
<path d="M80.5,199.6h0M81.5,200.23h0M82.5,200.85h0M83.5,201.48h0M84.5,202.11h0M85.5,202.73h0M86.5,203.36h0M87.5,203.99h0M88.5,204.6h0M89.5,205.2h0M90.5,205.79h0M91.5,206.39h0M92.5,206.99h0M93.5,207.59h0M94.5,208.19h0M95.5,208.78h0M96.5,209.38h0M97.5,209.95h0M98.5,210.5h0M99.5,211.06h0M100.5,211.62h0M101.5,212.18h0M102.5,212.74h0M103.5,213.3h0M104.5,213.85h0M107.5,216.09h0M109.7,217.89h0M111.8,219.6h0M112.8,220.39h0M113.8,221.18h0M114.8,221.97h0M115.8,222.76h0M116.8,223.55h0M117.8,224.34h0M118.8,225.2h0M119.8,226.07h0M120.8,226.93h0M121.8,227.8h0M122.8,228.67h0M123.8,229.54h0M124.8,230.41h0M128.3,234.09h0M130.8,236.53h0M133,238.8h0M135,241.07h0M136,242.22h0M137,243.37h0M138,244.51h0M139,245.66h0M140,246.8h0M141,247.95h0M142,249.1h0M143,250.24h0M144,251.39h0M145,252.54h0M146,253.68h0M149.3,257.48h0M151.8,260.36h0M154,262.9h0M155,263.7h0M156,264.51h0M157,265.31h0M158,266.12h0M159,266.92h0M160,267.73h0M161,268.53h0M162,269.34h0M163,270.37h0M164,271.45h0M165,272.53h0M166,273.61h0M167,274.69h0M168,275.78h0M169,276.86h0M170,277.95h0M171,279.05h0M172,280.14h0M173,281.24h0M174,282.34h0M175,283.43h0M176,284.53h0M177,285.68h0M178,286.94h0M179,288.19h0M180,289.45h0M181,290.71h0M182,291.97h0M184.6,295.11h0M186.3,297.1h0M187.3,298.1h0M188.3,299.1h0M189.3,300.1h0M190.3,300.93h0M191.3,301.65h0M192.3,302.37h0M193.3,303.09h0M194.3,303.81h0M195.3,304.54h0M196.3,305.28h0M197.3,306.02h0M198.3,306.76h0M199.3,307.5h0M200.3,307.82h0M201.3,308.15h0M202.3,308.47h0M203.3,308.79h0M204.3,309.11h0M205.3,309.44h0M206.3,309.76h0M207.3,310.08h0M208.3,310.4h0M209.3,310.62h0M210.3,310.8h0M211.3,310.97h0M212.3,311.14h0M213.3,311.32h0M214.3,311.49h0M215.3,311.67h0M216.3,311.84h0M217.3,312.01h0" stroke="#1a44dd" stroke-width="2.5" stroke-linecap="round" fill="none"/>
<path d="M80.5,199.32h0M81.5,200.03h0M82.5,200.75h0M83.5,201.46h0M84.5,202.18h0M85.5,202.9h0M86.5,203.61h0M87.5,204.33h0M88.5,204.98h0M89.5,205.62h0M90.5,206.26h0M91.5,206.9h0M92.5,207.55h0M93.5,208.19h0M94.5,208.83h0M95.5,209.47h0M96.5,210.1h0M97.5,210.73h0M98.5,211.37h0M99.5,212h0M100.5,212.63h0M101.5,213.26h0M102.5,213.89h0M103.5,214.52h0M104.5,215.15h0M107.5,217.7h0M109.7,219.64h0M111.8,221.5h0M112.8,222.52h0M113.8,223.53h0M114.8,224.55h0M115.8,225.56h0M116.8,226.58h0M117.8,227.6h0M118.8,228.79h0M119.8,230.03h0M120.8,231.27h0M121.8,232.51h0M122.8,233.75h0M123.8,234.99h0M124.8,236.23h0M128.3,239.85h0M130.8,242.76h0M133,245.1h0M135,246.97h0M136,248.12h0M137,249.27h0M138,250.41h0M139,251.56h0M140,252.71h0M141,253.85h0M142,255h0M143,256.15h0M144,257.29h0M145,258.44h0M146,259.59h0M149.3,262.62h0M151.8,264.89h0M154,266.9h0M155,267.83h0M156,268.75h0M157,269.68h0M158,270.61h0M159,271.53h0M160,272.46h0M161,273.39h0M162,274.31h0M163,275.21h0M164,276.1h0M165,276.99h0M166,277.88h0M167,278.77h0M168,279.66h0M169,280.55h0M170,281.5h0M171,282.5h0M172,283.5h0M173,284.5h0M174,285.5h0M175,286.5h0M176,287.5h0M177,288.5h0M178,289.5h0M179,290.5h0M180,291.5h0M181,292.5h0M182,293.5h0M184.6,297.3h0M186.3,299.22h0M187.3,300.04h0M188.3,300.85h0M189.3,301.67h0M190.3,302.47h0M191.3,303.25h0M192.3,304.03h0M193.3,304.81h0M194.3,305.59h0M195.3,306.2h0M196.3,306.69h0M197.3,307.19h0M198.3,307.68h0M199.3,308.18h0M200.3,308.67h0M201.3,309.16h0M202.3,309.66h0M203.3,310.15h0M204.3,310.58h0M205.3,310.83h0M206.3,311.08h0M207.3,311.34h0M208.3,311.59h0M209.3,311.84h0M210.3,312.1h0M211.3,312.35h0M212.3,312.61h0M213.3,312.86h0M214.3,313.11h0M215.3,313.37h0M216.3,313.62h0M217.3,313.87h0" stroke="#1a9a1a" stroke-width="2.5" stroke-linecap="round" fill="none"/>
<path d="M80.5,199.6h0M81.5,200.6h0M82.5,201.6h0M83.5,202.6h0M84.5,203.6h0M85.5,204.6h0M86.5,205.6h0M87.5,206.6h0M88.5,207.67h0M89.5,208.74h0M90.5,209.81h0M91.5,210.89h0M92.5,211.96h0M93.5,213.04h0M94.5,214.11h0M95.5,215.19h0M96.5,216.2h0M97.5,217.2h0M98.5,218.2h0M99.5,219.2h0M100.5,220.2h0M101.5,221.2h0M102.5,222.2h0M103.5,223.2h0M104.5,224.2h0M107.5,227.61h0M109.7,230.17h0M111.8,232.6h0M112.8,233.88h0M113.8,235.15h0M114.8,236.43h0M115.8,237.7h0M116.8,238.98h0M117.8,240.2h0M118.8,241.18h0M119.8,242.17h0M120.8,243.16h0M121.8,244.14h0M122.8,245.13h0M123.8,246.12h0M124.8,247.1h0M128.3,251.02h0M130.8,253.7h0M133,256h0M135,257.85h0M136,258.73h0M137,259.61h0M138,260.49h0M139,261.37h0M140,262.24h0M141,263.12h0M142,264h0M143,264.88h0M144,265.76h0M145,266.63h0M146,267.51h0M149.3,270.29h0M151.8,272.4h0M154,274.3h0M155,274.87h0M156,275.45h0M157,276.02h0M158,276.59h0M159,277.17h0M160,277.74h0M161,278.31h0M162,278.89h0M163,279.56h0M164,280.26h0M165,280.96h0M166,281.65h0M167,282.35h0M168,283.05h0M169,283.75h0M170,284.52h0M171,285.36h0M172,286.19h0M173,287.03h0M174,287.94h0M175,289.12h0M176,290.31h0M177,291.5h0M178,292.68h0M179,293.85h0M180,295.02h0M181,296.18h0M182,297.19h0M184.6,298.85h0M186.3,300.25h0M187.3,301.21h0M188.3,302.16h0M189.3,303.12h0M190.3,303.85h0M191.3,304.44h0M192.3,305.02h0M193.3,305.61h0M194.3,306.19h0M195.3,306.69h0M196.3,306.98h0M197.3,307.26h0M198.3,307.55h0M199.3,307.84h0M200.3,308.13h0M201.3,308.42h0M202.3,308.71h0M203.3,309h0M204.3,309.25h0M205.3,309.42h0M206.3,309.58h0M207.3,309.75h0M208.3,309.92h0M209.3,310.08h0M210.3,310.25h0M211.3,310.42h0M212.3,310.58h0M213.3,310.75h0M214.3,310.92h0M215.3,311.08h0M216.3,311.25h0M217.3,311.42h0" stroke="#ff1a1a" stroke-width="2.5" stroke-linecap="round" fill="none"/>
<path d="M80.5,200.97h0M81.5,202.15h0M82.5,203.32h0M83.5,204.5h0M84.5,205.67h0M85.5,206.84h0M86.5,208.02h0M87.5,209.19h0M88.5,210.37h0M89.5,211.54h0M90.5,212.71h0M91.5,213.89h0M92.5,215.06h0M93.5,216.22h0M94.5,217.3h0M95.5,218.39h0M96.5,219.48h0M97.5,220.56h0M98.5,221.65h0M99.5,222.79h0M100.5,224.02h0M101.5,225.25h0M102.5,226.48h0M103.5,227.72h0M104.5,228.91h0M107.5,232.03h0M109.7,234.32h0M111.8,236.5h0M112.8,237.88h0M113.8,239.25h0M114.8,240.62h0M115.8,241.76h0M116.8,242.82h0M117.8,243.89h0M118.8,244.96h0M119.8,246.03h0M120.8,247.1h0M121.8,248.17h0M122.8,249.24h0M123.8,250.31h0M124.8,251.38h0M128.3,254.15h0M130.8,256.24h0M133,257.98h0M135,259.41h0M136,260.22h0M137,261.03h0M138,261.84h0M139,262.65h0M140,263.46h0M141,264.27h0M142,265.08h0M143,265.89h0M144,266.7h0M145,267.51h0M146,268.32h0M149.3,270.86h0M151.8,272.78h0M154,274.04h0M155,274.5h0M156,275.1h0M157,275.69h0M158,276.29h0M159,276.89h0M160,277.49h0M161,278.08h0M162,278.68h0M163,279.36h0M164,280.06h0M165,280.76h0M166,281.45h0M167,282.15h0M168,282.85h0M169,283.55h0M170,284.32h0M171,285.16h0M172,285.99h0M173,286.83h0M174,287.74h0M175,288.92h0M176,290.11h0M177,291.3h0M178,292.48h0M179,293.68h0M180,294.87h0M181,296.06h0M182,297.08h0M184.6,298.67h0M186.3,300.08h0M187.3,301.05h0M188.3,302.03h0M189.3,303.01h0M190.3,303.75h0M191.3,304.34h0M192.3,304.92h0M193.3,305.51h0M194.3,306.09h0M195.3,306.58h0M196.3,306.86h0M197.3,307.14h0M198.3,307.42h0M199.3,307.69h0M200.3,307.97h0M201.3,308.25h0M202.3,308.53h0M203.3,308.81h0M204.3,309.05h0M205.3,309.21h0M206.3,309.37h0M207.3,309.53h0M208.3,309.69h0M209.3,309.84h0M210.3,310h0M211.3,310.16h0M212.3,310.32h0M213.3,310.48h0M214.3,310.64h0M215.3,310.8h0M216.3,310.96h0M217.3,311.12h0" stroke="#8c0c0c" stroke-width="2.5" stroke-linecap="round" fill="none"/>
<circle cx="55.8" cy="185.6" r="1.2" fill="#1a44dd" stroke="none" stroke-width="0"/>
<circle cx="55.8" cy="184.3" r="1.2" fill="#1a9a1a" stroke="none" stroke-width="0"/>
<circle cx="55.8" cy="183.1" r="1.2" fill="#ff1a1a" stroke="none" stroke-width="0"/>
<circle cx="55.8" cy="181.9" r="1.2" fill="#8c0c0c" stroke="none" stroke-width="0"/>
<circle cx="65" cy="192.4" r="1.2" fill="#1a44dd" stroke="none" stroke-width="0"/>
<circle cx="65" cy="190.4" r="1.2" fill="#1a9a1a" stroke="none" stroke-width="0"/>
<circle cx="65" cy="188.9" r="1.2" fill="#ff1a1a" stroke="none" stroke-width="0"/>
<circle cx="65" cy="187.7" r="1.2" fill="#8c0c0c" stroke="none" stroke-width="0"/>
<circle cx="70.6" cy="195.8" r="1.2" fill="#1a44dd" stroke="none" stroke-width="0"/>
<circle cx="70.6" cy="194.1" r="1.2" fill="#1a9a1a" stroke="none" stroke-width="0"/>
<circle cx="70.6" cy="193" r="1.2" fill="#ff1a1a" stroke="none" stroke-width="0"/>
<circle cx="70.6" cy="191.8" r="1.2" fill="#8c0c0c" stroke="none" stroke-width="0"/>
<circle cx="74.3" cy="197.9" r="1.2" fill="#1a44dd" stroke="none" stroke-width="0"/>
<circle cx="74.3" cy="196.8" r="1.2" fill="#1a9a1a" stroke="none" stroke-width="0"/>
<circle cx="74.3" cy="195.8" r="1.2" fill="#ff1a1a" stroke="none" stroke-width="0"/>
<circle cx="74.3" cy="194.9" r="1.2" fill="#8c0c0c" stroke="none" stroke-width="0"/>
<circle cx="77.2" cy="199.5" r="1.2" fill="#1a44dd" stroke="none" stroke-width="0"/>
<circle cx="77.2" cy="198.7" r="1.2" fill="#1a9a1a" stroke="none" stroke-width="0"/>
<circle cx="77.2" cy="197.6" r="1.2" fill="#ff1a1a" stroke="none" stroke-width="0"/>
<circle cx="77.2" cy="197" r="1.2" fill="#8c0c0c" stroke="none" stroke-width="0"/>
<circle cx="38" cy="178.7" r="1.4" fill="#8c0c0c" stroke="none" stroke-width="0"/>
<circle cx="164.3" cy="196.9" r="2" fill="#1a44dd" stroke="none" stroke-width="0"/>
<text transform="translate(173.3,200.2) scale(0.95,1)" font-size="10.12" text-anchor="start" fill="#141414" stroke="#141414" font-weight="normal" >30K</text>
<circle cx="164.3" cy="207.63" r="2" fill="#1a9a1a" stroke="none" stroke-width="0"/>
<text transform="translate(173.3,210.93) scale(0.95,1)" font-size="10.12" text-anchor="start" fill="#141414" stroke="#141414" font-weight="normal" >80K</text>
<circle cx="164.3" cy="218.36" r="2" fill="#ff1a1a" stroke="none" stroke-width="0"/>
<text transform="translate(173.3,221.66) scale(0.95,1)" font-size="10.12" text-anchor="start" fill="#141414" stroke="#141414" font-weight="normal" >200K</text>
<circle cx="164.3" cy="229.09" r="2" fill="#8c0c0c" stroke="none" stroke-width="0"/>
<text transform="translate(173.3,232.39) scale(0.95,1)" font-size="10.12" text-anchor="start" fill="#141414" stroke="#141414" font-weight="normal" >293K</text>
<rect x="268.6" y="176.9" width="183.6" height="139.3" fill="none" stroke="#222" stroke-width="1.1"/>
<line x1="269.4" y1="316.2" x2="269.4" y2="311.9" stroke="#222" stroke-width="1.0"/>
<line x1="269.4" y1="176.9" x2="269.4" y2="181.2" stroke="#222" stroke-width="1.0"/>
<line x1="301.5" y1="316.2" x2="301.5" y2="311.9" stroke="#222" stroke-width="1.0"/>
<line x1="301.5" y1="176.9" x2="301.5" y2="181.2" stroke="#222" stroke-width="1.0"/>
<line x1="333.6" y1="316.2" x2="333.6" y2="311.9" stroke="#222" stroke-width="1.0"/>
<line x1="333.6" y1="176.9" x2="333.6" y2="181.2" stroke="#222" stroke-width="1.0"/>
<line x1="365.7" y1="316.2" x2="365.7" y2="311.9" stroke="#222" stroke-width="1.0"/>
<line x1="365.7" y1="176.9" x2="365.7" y2="181.2" stroke="#222" stroke-width="1.0"/>
<line x1="397.8" y1="316.2" x2="397.8" y2="311.9" stroke="#222" stroke-width="1.0"/>
<line x1="397.8" y1="176.9" x2="397.8" y2="181.2" stroke="#222" stroke-width="1.0"/>
<line x1="429.9" y1="316.2" x2="429.9" y2="311.9" stroke="#222" stroke-width="1.0"/>
<line x1="429.9" y1="176.9" x2="429.9" y2="181.2" stroke="#222" stroke-width="1.0"/>
<line x1="268.6" y1="315.5" x2="272.9" y2="315.5" stroke="#222" stroke-width="1"/>
<line x1="452.2" y1="315.5" x2="447.9" y2="315.5" stroke="#222" stroke-width="1"/>
<line x1="268.6" y1="308.62" x2="270.9" y2="308.62" stroke="#222" stroke-width="1"/>
<line x1="452.2" y1="308.62" x2="449.9" y2="308.62" stroke="#222" stroke-width="1"/>
<line x1="268.6" y1="301.74" x2="270.9" y2="301.74" stroke="#222" stroke-width="1"/>
<line x1="452.2" y1="301.74" x2="449.9" y2="301.74" stroke="#222" stroke-width="1"/>
<line x1="268.6" y1="294.86" x2="270.9" y2="294.86" stroke="#222" stroke-width="1"/>
<line x1="452.2" y1="294.86" x2="449.9" y2="294.86" stroke="#222" stroke-width="1"/>
<line x1="268.6" y1="287.98" x2="272.9" y2="287.98" stroke="#222" stroke-width="1"/>
<line x1="452.2" y1="287.98" x2="447.9" y2="287.98" stroke="#222" stroke-width="1"/>
<line x1="268.6" y1="281.1" x2="270.9" y2="281.1" stroke="#222" stroke-width="1"/>
<line x1="452.2" y1="281.1" x2="449.9" y2="281.1" stroke="#222" stroke-width="1"/>
<line x1="268.6" y1="274.22" x2="270.9" y2="274.22" stroke="#222" stroke-width="1"/>
<line x1="452.2" y1="274.22" x2="449.9" y2="274.22" stroke="#222" stroke-width="1"/>
<line x1="268.6" y1="267.34" x2="270.9" y2="267.34" stroke="#222" stroke-width="1"/>
<line x1="452.2" y1="267.34" x2="449.9" y2="267.34" stroke="#222" stroke-width="1"/>
<line x1="268.6" y1="260.46" x2="272.9" y2="260.46" stroke="#222" stroke-width="1"/>
<line x1="452.2" y1="260.46" x2="447.9" y2="260.46" stroke="#222" stroke-width="1"/>
<line x1="268.6" y1="253.58" x2="270.9" y2="253.58" stroke="#222" stroke-width="1"/>
<line x1="452.2" y1="253.58" x2="449.9" y2="253.58" stroke="#222" stroke-width="1"/>
<line x1="268.6" y1="246.7" x2="270.9" y2="246.7" stroke="#222" stroke-width="1"/>
<line x1="452.2" y1="246.7" x2="449.9" y2="246.7" stroke="#222" stroke-width="1"/>
<line x1="268.6" y1="239.82" x2="270.9" y2="239.82" stroke="#222" stroke-width="1"/>
<line x1="452.2" y1="239.82" x2="449.9" y2="239.82" stroke="#222" stroke-width="1"/>
<line x1="268.6" y1="232.94" x2="272.9" y2="232.94" stroke="#222" stroke-width="1"/>
<line x1="452.2" y1="232.94" x2="447.9" y2="232.94" stroke="#222" stroke-width="1"/>
<line x1="268.6" y1="226.06" x2="270.9" y2="226.06" stroke="#222" stroke-width="1"/>
<line x1="452.2" y1="226.06" x2="449.9" y2="226.06" stroke="#222" stroke-width="1"/>
<line x1="268.6" y1="219.18" x2="270.9" y2="219.18" stroke="#222" stroke-width="1"/>
<line x1="452.2" y1="219.18" x2="449.9" y2="219.18" stroke="#222" stroke-width="1"/>
<line x1="268.6" y1="212.3" x2="270.9" y2="212.3" stroke="#222" stroke-width="1"/>
<line x1="452.2" y1="212.3" x2="449.9" y2="212.3" stroke="#222" stroke-width="1"/>
<line x1="268.6" y1="205.42" x2="272.9" y2="205.42" stroke="#222" stroke-width="1"/>
<line x1="452.2" y1="205.42" x2="447.9" y2="205.42" stroke="#222" stroke-width="1"/>
<line x1="268.6" y1="198.54" x2="270.9" y2="198.54" stroke="#222" stroke-width="1"/>
<line x1="452.2" y1="198.54" x2="449.9" y2="198.54" stroke="#222" stroke-width="1"/>
<line x1="268.6" y1="191.66" x2="270.9" y2="191.66" stroke="#222" stroke-width="1"/>
<line x1="452.2" y1="191.66" x2="449.9" y2="191.66" stroke="#222" stroke-width="1"/>
<line x1="268.6" y1="184.78" x2="270.9" y2="184.78" stroke="#222" stroke-width="1"/>
<line x1="452.2" y1="184.78" x2="449.9" y2="184.78" stroke="#222" stroke-width="1"/>
<line x1="268.6" y1="177.9" x2="272.9" y2="177.9" stroke="#222" stroke-width="1"/>
<line x1="452.2" y1="177.9" x2="447.9" y2="177.9" stroke="#222" stroke-width="1"/>
<text transform="translate(263.33,330.4) scale(0.95,1)" font-size="9.8" text-anchor="start" fill="#141414" stroke="#141414" font-weight="normal" >10<tspan font-size="7.17" dy="-4.4">-9</tspan></text>
<text transform="translate(295.43,330.4) scale(0.95,1)" font-size="9.8" text-anchor="start" fill="#141414" stroke="#141414" font-weight="normal" >10<tspan font-size="7.17" dy="-4.4">-8</tspan></text>
<text transform="translate(327.53,330.4) scale(0.95,1)" font-size="9.8" text-anchor="start" fill="#141414" stroke="#141414" font-weight="normal" >10<tspan font-size="7.17" dy="-4.4">-7</tspan></text>
<text transform="translate(359.63,330.4) scale(0.95,1)" font-size="9.8" text-anchor="start" fill="#141414" stroke="#141414" font-weight="normal" >10<tspan font-size="7.17" dy="-4.4">-6</tspan></text>
<text transform="translate(391.73,330.4) scale(0.95,1)" font-size="9.8" text-anchor="start" fill="#141414" stroke="#141414" font-weight="normal" >10<tspan font-size="7.17" dy="-4.4">-5</tspan></text>
<text transform="translate(423.83,330.4) scale(0.95,1)" font-size="9.8" text-anchor="start" fill="#141414" stroke="#141414" font-weight="normal" >10<tspan font-size="7.17" dy="-4.4">-4</tspan></text>
<text transform="translate(264.7,318.8) scale(0.95,1)" font-size="9.8" text-anchor="end" fill="#141414" stroke="#141414" font-weight="normal" >0.0</text>
<text transform="translate(264.7,291.28) scale(0.95,1)" font-size="9.8" text-anchor="end" fill="#141414" stroke="#141414" font-weight="normal" >0.2</text>
<text transform="translate(264.7,263.76) scale(0.95,1)" font-size="9.8" text-anchor="end" fill="#141414" stroke="#141414" font-weight="normal" >0.4</text>
<text transform="translate(264.7,236.24) scale(0.95,1)" font-size="9.8" text-anchor="end" fill="#141414" stroke="#141414" font-weight="normal" >0.6</text>
<text transform="translate(264.7,208.72) scale(0.95,1)" font-size="9.8" text-anchor="end" fill="#141414" stroke="#141414" font-weight="normal" >0.8</text>
<text transform="translate(264.7,181.2) scale(0.95,1)" font-size="9.8" text-anchor="end" fill="#141414" stroke="#141414" font-weight="normal" >1.0</text>
<text transform="translate(361.1,343.2) scale(0.95,1)" font-size="9.59" text-anchor="middle" fill="#141414" stroke="#141414" font-weight="normal" >Time (s)</text>
<text transform="translate(240.4,244.8) rotate(-90) scale(0.95,1)" font-size="9.8" text-anchor="middle" fill="#141414" stroke="#141414" font-weight="normal" >Integrated PL (norm.)</text>
<text transform="translate(232.6,183.6) scale(0.95,1)" font-size="9.8" text-anchor="start" fill="#141414" stroke="#141414" font-weight="normal" >c)</text>
<path d="M268.6,315.7 C270.55,311.42 277.5,296.78 280.3,290 C283.1,283.22 283.57,280.57 285.4,275 C287.23,269.43 289.6,262.07 291.3,256.6 C293,251.13 294.3,245.67 295.6,242.2 C296.9,238.73 297.83,237.83 299.1,235.8 C300.37,233.77 301.2,232.8 303.2,230 C305.2,227.2 308.58,222.28 311.1,219 C313.62,215.72 315.48,213.3 318.3,210.3 C321.12,207.3 324.57,204.02 328,201 C331.43,197.98 335.4,194.85 338.9,192.2 C342.4,189.55 345.63,187.02 349,185.1 C352.37,183.18 355.93,181.75 359.1,180.7 C362.27,179.65 362.85,179.2 368,178.8 C373.15,178.4 376,178.4 390,178.3 C404,178.2 441.67,178.22 452,178.2" stroke="#2030ee" stroke-width="1.15" fill="none" />
<path d="M268.6,315.7 C270.55,311.42 277.5,296.78 280.3,290 C283.1,283.22 283.57,280.57 285.4,275 C287.23,269.43 289.6,261.98 291.3,256.6 C293,251.22 294.3,246.17 295.6,242.7 C296.9,239.23 297.95,237.92 299.1,235.8 C300.25,233.68 300.73,233.28 302.5,230 C304.27,226.72 307.3,220.33 309.7,216.1 C312.1,211.87 314.5,207.85 316.9,204.6 C319.3,201.35 322.13,198.57 324.1,196.6 C326.07,194.63 326.23,194.65 328.7,192.8 C331.17,190.95 335.52,187.42 338.9,185.5 C342.28,183.58 345.3,182.4 349,181.3 C352.7,180.2 355.93,179.4 361.1,178.9 C366.27,178.4 364.85,178.42 380,178.3 C395.15,178.18 440,178.22 452,178.2" stroke="#1f9f1f" stroke-width="1.15" fill="none" />
<path d="M268.6,315.7 C270.18,311.42 275.62,296.78 278.1,290 C280.58,283.22 281.45,280.85 283.5,275 C285.55,269.15 288.65,260.4 290.4,254.9 C292.15,249.4 292.85,246.23 294,242 C295.15,237.77 296.02,233.45 297.3,229.5 C298.58,225.55 300.48,221.73 301.7,218.3 C302.92,214.87 303.38,212.27 304.6,208.9 C305.82,205.53 307.32,201.35 309,198.1 C310.68,194.85 312.67,191.7 314.7,189.4 C316.73,187.1 318.98,185.55 321.2,184.3 C323.42,183.05 325.05,182.7 328,181.9 C330.95,181.1 334.4,180.07 338.9,179.5 C343.4,178.93 348.15,178.7 355,178.5 C361.85,178.3 365.67,178.35 380,178.3 C394.33,178.25 430.83,178.22 441,178.2" stroke="#ff1a1a" stroke-width="1.15" fill="none" />
<path d="M268.6,315.7 C270.55,311.42 277.5,296.78 280.3,290 C283.1,283.22 283.57,280.57 285.4,275 C287.23,269.43 289.78,261.85 291.3,256.6 C292.82,251.35 293.48,247.93 294.5,243.5 C295.52,239.07 296.32,234.32 297.4,230 C298.48,225.68 299.92,221.35 301,217.6 C302.08,213.85 302.7,211.12 303.9,207.5 C305.1,203.88 306.52,199.28 308.2,195.9 C309.88,192.52 311.83,189.48 314,187.2 C316.17,184.92 318.87,183.32 321.2,182.2 C323.53,181.08 325.05,181.05 328,180.5 C330.95,179.95 334.73,179.25 338.9,178.9 C343.07,178.55 337.98,178.52 353,178.4 C368.02,178.28 416.33,178.23 429,178.2" stroke="#a80c0c" stroke-width="1.15" fill="none" />
<rect x="348.3" y="223.4" width="75" height="58.6" fill="#fff"/>
<clipPath id="cin"><rect x="348.3" y="223.4" width="75" height="58.6"/></clipPath>
<path d="M366.3,287 C366.38,286.33 366.17,286.07 366.8,283 C367.43,279.93 368.98,272.95 370.1,268.6 C371.22,264.25 372.23,260.82 373.5,256.9 C374.77,252.98 376.17,248.32 377.7,245.1 C379.23,241.88 380.88,239.5 382.7,237.6 C384.52,235.7 386.5,234.62 388.6,233.7 C390.7,232.78 392.57,232.4 395.3,232.1 C398.03,231.8 400.38,231.93 405,231.9 C409.62,231.87 420,231.9 423,231.9" stroke="#2030ee" stroke-width="1.25" fill="none" clip-path="url(#cin)"/>
<path d="M363,287 C363.07,286.33 362.77,286.62 363.4,283 C364.03,279.38 365.68,270.5 366.8,265.3 C367.92,260.1 368.85,255.72 370.1,251.8 C371.35,247.88 372.75,244.45 374.3,241.8 C375.85,239.15 377.58,237.35 379.4,235.9 C381.22,234.45 383.12,233.73 385.2,233.1 C387.28,232.47 389.43,232.3 391.9,232.1 C394.37,231.9 394.82,231.93 400,231.9 C405.18,231.87 419.17,231.9 423,231.9" stroke="#1f9f1f" stroke-width="1.25" fill="none" clip-path="url(#cin)"/>
<path d="M356,287 C356.07,286.33 355.87,287.18 356.4,283 C356.93,278.82 358.17,267.65 359.2,261.9 C360.23,256.15 361.33,252.42 362.6,248.5 C363.87,244.58 365.27,240.78 366.8,238.4 C368.33,236.02 369.85,235.17 371.8,234.2 C373.75,233.23 375.8,232.97 378.5,232.6 C381.2,232.23 380.58,232.12 388,232 C395.42,231.88 417.17,231.92 423,231.9" stroke="#ff1a1a" stroke-width="1.25" fill="none" clip-path="url(#cin)"/>
<path d="M354.6,287 C354.67,286.33 354.5,286.9 355,283 C355.5,279.1 356.75,269.35 357.6,263.6 C358.45,257.85 359.13,252.55 360.1,248.5 C361.07,244.45 362.15,241.68 363.4,239.3 C364.65,236.92 365.92,235.32 367.6,234.2 C369.28,233.08 370.83,232.97 373.5,232.6 C376.17,232.23 375.35,232.12 383.6,232 C391.85,231.88 416.43,231.92 423,231.9" stroke="#a80c0c" stroke-width="1.25" fill="none" clip-path="url(#cin)"/>
<rect x="348.3" y="223.4" width="75" height="58.6" fill="none" stroke="#222" stroke-width="1.1"/>
<line x1="352.5" y1="282" x2="352.5" y2="279" stroke="#222" stroke-width="1"/>
<line x1="352.5" y1="223.4" x2="352.5" y2="226.4" stroke="#222" stroke-width="1"/>
<line x1="369.9" y1="282" x2="369.9" y2="279" stroke="#222" stroke-width="1"/>
<line x1="369.9" y1="223.4" x2="369.9" y2="226.4" stroke="#222" stroke-width="1"/>
<line x1="387.3" y1="282" x2="387.3" y2="279" stroke="#222" stroke-width="1"/>
<line x1="387.3" y1="223.4" x2="387.3" y2="226.4" stroke="#222" stroke-width="1"/>
<line x1="404.7" y1="282" x2="404.7" y2="279" stroke="#222" stroke-width="1"/>
<line x1="404.7" y1="223.4" x2="404.7" y2="226.4" stroke="#222" stroke-width="1"/>
<line x1="422.1" y1="282" x2="422.1" y2="279" stroke="#222" stroke-width="1"/>
<line x1="422.1" y1="223.4" x2="422.1" y2="226.4" stroke="#222" stroke-width="1"/>
<line x1="348.3" y1="231.3" x2="351.3" y2="231.3" stroke="#222" stroke-width="1"/>
<line x1="423.3" y1="231.3" x2="420.3" y2="231.3" stroke="#222" stroke-width="1"/>
<line x1="348.3" y1="246.3" x2="351.3" y2="246.3" stroke="#222" stroke-width="1"/>
<line x1="423.3" y1="246.3" x2="420.3" y2="246.3" stroke="#222" stroke-width="1"/>
<line x1="348.3" y1="261.3" x2="351.3" y2="261.3" stroke="#222" stroke-width="1"/>
<line x1="423.3" y1="261.3" x2="420.3" y2="261.3" stroke="#222" stroke-width="1"/>
<line x1="348.3" y1="276.3" x2="351.3" y2="276.3" stroke="#222" stroke-width="1"/>
<line x1="423.3" y1="276.3" x2="420.3" y2="276.3" stroke="#222" stroke-width="1"/>
<text transform="translate(343.3,234.6) scale(0.95,1)" font-size="9.8" text-anchor="end" fill="#141414" stroke="#141414" font-weight="normal" >1.00</text>
<text transform="translate(343.3,264.6) scale(0.95,1)" font-size="9.8" text-anchor="end" fill="#141414" stroke="#141414" font-weight="normal" >0.90</text>
<text transform="translate(346.43,296.8) scale(0.95,1)" font-size="9.8" text-anchor="start" fill="#141414" stroke="#141414" font-weight="normal" >10<tspan font-size="7.17" dy="-4.4">-8</tspan></text>
<text transform="translate(381.23,296.8) scale(0.95,1)" font-size="9.8" text-anchor="start" fill="#141414" stroke="#141414" font-weight="normal" >10<tspan font-size="7.17" dy="-4.4">-6</tspan></text>
<text transform="translate(416.03,296.8) scale(0.95,1)" font-size="9.8" text-anchor="start" fill="#141414" stroke="#141414" font-weight="normal" >10<tspan font-size="7.17" dy="-4.4">-4</tspan></text>
<rect x="494" y="178.4" width="186.6" height="138.1" fill="none" stroke="#222" stroke-width="1.1"/>
<line x1="497.5" y1="316.5" x2="497.5" y2="312.3" stroke="#222" stroke-width="1.0"/>
<line x1="497.5" y1="178.4" x2="497.5" y2="182.6" stroke="#222" stroke-width="1.0"/>
<line x1="527.51" y1="316.5" x2="527.51" y2="312.3" stroke="#222" stroke-width="1.0"/>
<line x1="527.51" y1="178.4" x2="527.51" y2="182.6" stroke="#222" stroke-width="1.0"/>
<line x1="557.53" y1="316.5" x2="557.53" y2="312.3" stroke="#222" stroke-width="1.0"/>
<line x1="557.53" y1="178.4" x2="557.53" y2="182.6" stroke="#222" stroke-width="1.0"/>
<line x1="587.54" y1="316.5" x2="587.54" y2="312.3" stroke="#222" stroke-width="1.0"/>
<line x1="587.54" y1="178.4" x2="587.54" y2="182.6" stroke="#222" stroke-width="1.0"/>
<line x1="617.56" y1="316.5" x2="617.56" y2="312.3" stroke="#222" stroke-width="1.0"/>
<line x1="617.56" y1="178.4" x2="617.56" y2="182.6" stroke="#222" stroke-width="1.0"/>
<line x1="647.58" y1="316.5" x2="647.58" y2="312.3" stroke="#222" stroke-width="1.0"/>
<line x1="647.58" y1="178.4" x2="647.58" y2="182.6" stroke="#222" stroke-width="1.0"/>
<line x1="677.59" y1="316.5" x2="677.59" y2="312.3" stroke="#222" stroke-width="1.0"/>
<line x1="677.59" y1="178.4" x2="677.59" y2="182.6" stroke="#222" stroke-width="1.0"/>
<line x1="494" y1="303.9" x2="498.2" y2="303.9" stroke="#222" stroke-width="1.0"/>
<line x1="680.6" y1="303.9" x2="676.4" y2="303.9" stroke="#222" stroke-width="1.0"/>
<line x1="494" y1="286.5" x2="498.2" y2="286.5" stroke="#222" stroke-width="1.0"/>
<line x1="680.6" y1="286.5" x2="676.4" y2="286.5" stroke="#222" stroke-width="1.0"/>
<line x1="494" y1="269.1" x2="498.2" y2="269.1" stroke="#222" stroke-width="1.0"/>
<line x1="680.6" y1="269.1" x2="676.4" y2="269.1" stroke="#222" stroke-width="1.0"/>
<line x1="494" y1="251.7" x2="498.2" y2="251.7" stroke="#222" stroke-width="1.0"/>
<line x1="680.6" y1="251.7" x2="676.4" y2="251.7" stroke="#222" stroke-width="1.0"/>
<line x1="494" y1="234.3" x2="498.2" y2="234.3" stroke="#222" stroke-width="1.0"/>
<line x1="680.6" y1="234.3" x2="676.4" y2="234.3" stroke="#222" stroke-width="1.0"/>
<line x1="494" y1="216.9" x2="498.2" y2="216.9" stroke="#222" stroke-width="1.0"/>
<line x1="680.6" y1="216.9" x2="676.4" y2="216.9" stroke="#222" stroke-width="1.0"/>
<line x1="494" y1="199.5" x2="498.2" y2="199.5" stroke="#222" stroke-width="1.0"/>
<line x1="680.6" y1="199.5" x2="676.4" y2="199.5" stroke="#222" stroke-width="1.0"/>
<line x1="494" y1="182.1" x2="498.2" y2="182.1" stroke="#222" stroke-width="1.0"/>
<line x1="680.6" y1="182.1" x2="676.4" y2="182.1" stroke="#222" stroke-width="1.0"/>
<text transform="translate(497.5,326.6) scale(0.95,1)" font-size="9.8" text-anchor="middle" fill="#141414" stroke="#141414" font-weight="normal" >0</text>
<text transform="translate(527.51,326.6) scale(0.95,1)" font-size="9.8" text-anchor="middle" fill="#141414" stroke="#141414" font-weight="normal" >50</text>
<text transform="translate(557.53,326.6) scale(0.95,1)" font-size="9.8" text-anchor="middle" fill="#141414" stroke="#141414" font-weight="normal" >100</text>
<text transform="translate(587.54,326.6) scale(0.95,1)" font-size="9.8" text-anchor="middle" fill="#141414" stroke="#141414" font-weight="normal" >150</text>
<text transform="translate(617.56,326.6) scale(0.95,1)" font-size="9.8" text-anchor="middle" fill="#141414" stroke="#141414" font-weight="normal" >200</text>
<text transform="translate(647.58,326.6) scale(0.95,1)" font-size="9.8" text-anchor="middle" fill="#141414" stroke="#141414" font-weight="normal" >250</text>
<text transform="translate(677.59,326.6) scale(0.95,1)" font-size="9.8" text-anchor="middle" fill="#141414" stroke="#141414" font-weight="normal" >300</text>
<text transform="translate(491.3,307.2) scale(0.95,1)" font-size="9.8" text-anchor="end" fill="#141414" stroke="#141414" font-weight="normal" >0</text>
<text transform="translate(491.3,289.8) scale(0.95,1)" font-size="9.8" text-anchor="end" fill="#141414" stroke="#141414" font-weight="normal" >20</text>
<text transform="translate(491.3,272.4) scale(0.95,1)" font-size="9.8" text-anchor="end" fill="#141414" stroke="#141414" font-weight="normal" >40</text>
<text transform="translate(491.3,255) scale(0.95,1)" font-size="9.8" text-anchor="end" fill="#141414" stroke="#141414" font-weight="normal" >60</text>
<text transform="translate(491.3,237.6) scale(0.95,1)" font-size="9.8" text-anchor="end" fill="#141414" stroke="#141414" font-weight="normal" >80</text>
<text transform="translate(491.3,220.2) scale(0.95,1)" font-size="9.8" text-anchor="end" fill="#141414" stroke="#141414" font-weight="normal" >100</text>
<text transform="translate(491.3,202.8) scale(0.95,1)" font-size="9.8" text-anchor="end" fill="#141414" stroke="#141414" font-weight="normal" >120</text>
<text transform="translate(491.3,185.4) scale(0.95,1)" font-size="9.8" text-anchor="end" fill="#141414" stroke="#141414" font-weight="normal" >140</text>
<text transform="translate(589,343.6) scale(0.95,1)" font-size="10.01" text-anchor="middle" fill="#141414" stroke="#141414" font-weight="normal" >Magnetic Field (mT)</text>
<text transform="translate(467.6,243.6) rotate(-90) scale(0.95,1)" font-size="10.12" text-anchor="middle" fill="#141414" stroke="#141414" font-weight="normal" >ΔPL/PL (%)</text>
<text transform="translate(459.8,186.9) scale(0.95,1)" font-size="9.8" text-anchor="start" fill="#141414" stroke="#141414" font-weight="normal" >d)</text>
<path d="M497.5,303.9 L500.5,308.25 L503.5,310.42 L506.5,311.12 L509.51,311.29 L512.51,312.16 L515.51,313.47 L518.51,312.16 L521.51,311.12 L524.51,309.55 L527.51,307.81 L533.52,301.9 L539.52,297.11 L545.52,291.55 L551.53,287.2 L557.53,282.93 L569.54,272.06 L581.54,260.83 L593.55,245.87 L605.55,235.69 L617.56,220.9 L629.57,211.77 L641.57,206.29 L653.58,198.8 L665.58,190.1 L677.59,181.4" stroke="#ac1418" stroke-width="1.1" fill="none" />
<circle cx="497.5" cy="303.9" r="2.35" fill="#ac1418" stroke="none" stroke-width="0"/>
<circle cx="500.5" cy="308.25" r="2.35" fill="#ac1418" stroke="none" stroke-width="0"/>
<circle cx="503.5" cy="310.42" r="2.35" fill="#ac1418" stroke="none" stroke-width="0"/>
<circle cx="506.5" cy="311.12" r="2.35" fill="#ac1418" stroke="none" stroke-width="0"/>
<circle cx="509.51" cy="311.29" r="2.35" fill="#ac1418" stroke="none" stroke-width="0"/>
<circle cx="512.51" cy="312.16" r="2.35" fill="#ac1418" stroke="none" stroke-width="0"/>
<circle cx="515.51" cy="313.47" r="2.35" fill="#ac1418" stroke="none" stroke-width="0"/>
<circle cx="518.51" cy="312.16" r="2.35" fill="#ac1418" stroke="none" stroke-width="0"/>
<circle cx="521.51" cy="311.12" r="2.35" fill="#ac1418" stroke="none" stroke-width="0"/>
<circle cx="524.51" cy="309.55" r="2.35" fill="#ac1418" stroke="none" stroke-width="0"/>
<circle cx="527.51" cy="307.81" r="2.35" fill="#ac1418" stroke="none" stroke-width="0"/>
<circle cx="533.52" cy="301.9" r="2.35" fill="#ac1418" stroke="none" stroke-width="0"/>
<circle cx="539.52" cy="297.11" r="2.35" fill="#ac1418" stroke="none" stroke-width="0"/>
<circle cx="545.52" cy="291.55" r="2.35" fill="#ac1418" stroke="none" stroke-width="0"/>
<circle cx="551.53" cy="287.2" r="2.35" fill="#ac1418" stroke="none" stroke-width="0"/>
<circle cx="557.53" cy="282.93" r="2.35" fill="#ac1418" stroke="none" stroke-width="0"/>
<circle cx="569.54" cy="272.06" r="2.35" fill="#ac1418" stroke="none" stroke-width="0"/>
<circle cx="581.54" cy="260.83" r="2.35" fill="#ac1418" stroke="none" stroke-width="0"/>
<circle cx="593.55" cy="245.87" r="2.35" fill="#ac1418" stroke="none" stroke-width="0"/>
<circle cx="605.55" cy="235.69" r="2.35" fill="#ac1418" stroke="none" stroke-width="0"/>
<circle cx="617.56" cy="220.9" r="2.35" fill="#ac1418" stroke="none" stroke-width="0"/>
<circle cx="629.57" cy="211.77" r="2.35" fill="#ac1418" stroke="none" stroke-width="0"/>
<circle cx="641.57" cy="206.29" r="2.35" fill="#ac1418" stroke="none" stroke-width="0"/>
<circle cx="653.58" cy="198.8" r="2.35" fill="#ac1418" stroke="none" stroke-width="0"/>
<circle cx="665.58" cy="190.1" r="2.35" fill="#ac1418" stroke="none" stroke-width="0"/>
<circle cx="677.59" cy="181.4" r="2.35" fill="#ac1418" stroke="none" stroke-width="0"/>
<path d="M497.5,303.9 L499,303.46 L500.5,302.77 L502,303.46 L503.5,304.33 L505,305.2 L506.5,305.64 L508.01,305.2 L509.51,303.9 L511.01,302.59 L512.51,302.16 L514.01,301.72 L515.51,302.16 L517.01,302.59 L518.51,303.03 L520.01,302.16 L521.51,301.46 L523.01,301.12 L524.51,301.29 L526.01,301.46 L527.51,301.12 L533.52,300.42 L539.52,300.51 L545.52,298.77 L551.53,295.9 L557.53,293.29 L569.54,291.2 L581.54,286.33 L593.55,282.67 L605.55,279.19 L617.56,275.02 L629.57,269.97 L641.57,266.49 L653.58,263.53 L670.39,259.53 L677.59,257.18" stroke="#ff1a1a" stroke-width="1.1" fill="none" />
<circle cx="497.5" cy="303.9" r="2.35" fill="#ff1a1a" stroke="none" stroke-width="0"/>
<circle cx="499" cy="303.46" r="2.35" fill="#ff1a1a" stroke="none" stroke-width="0"/>
<circle cx="500.5" cy="302.77" r="2.35" fill="#ff1a1a" stroke="none" stroke-width="0"/>
<circle cx="502" cy="303.46" r="2.35" fill="#ff1a1a" stroke="none" stroke-width="0"/>
<circle cx="503.5" cy="304.33" r="2.35" fill="#ff1a1a" stroke="none" stroke-width="0"/>
<circle cx="505" cy="305.2" r="2.35" fill="#ff1a1a" stroke="none" stroke-width="0"/>
<circle cx="506.5" cy="305.64" r="2.35" fill="#ff1a1a" stroke="none" stroke-width="0"/>
<circle cx="508.01" cy="305.2" r="2.35" fill="#ff1a1a" stroke="none" stroke-width="0"/>
<circle cx="509.51" cy="303.9" r="2.35" fill="#ff1a1a" stroke="none" stroke-width="0"/>
<circle cx="511.01" cy="302.59" r="2.35" fill="#ff1a1a" stroke="none" stroke-width="0"/>
<circle cx="512.51" cy="302.16" r="2.35" fill="#ff1a1a" stroke="none" stroke-width="0"/>
<circle cx="514.01" cy="301.72" r="2.35" fill="#ff1a1a" stroke="none" stroke-width="0"/>
<circle cx="515.51" cy="302.16" r="2.35" fill="#ff1a1a" stroke="none" stroke-width="0"/>
<circle cx="517.01" cy="302.59" r="2.35" fill="#ff1a1a" stroke="none" stroke-width="0"/>
<circle cx="518.51" cy="303.03" r="2.35" fill="#ff1a1a" stroke="none" stroke-width="0"/>
<circle cx="520.01" cy="302.16" r="2.35" fill="#ff1a1a" stroke="none" stroke-width="0"/>
<circle cx="521.51" cy="301.46" r="2.35" fill="#ff1a1a" stroke="none" stroke-width="0"/>
<circle cx="523.01" cy="301.12" r="2.35" fill="#ff1a1a" stroke="none" stroke-width="0"/>
<circle cx="524.51" cy="301.29" r="2.35" fill="#ff1a1a" stroke="none" stroke-width="0"/>
<circle cx="526.01" cy="301.46" r="2.35" fill="#ff1a1a" stroke="none" stroke-width="0"/>
<circle cx="527.51" cy="301.12" r="2.35" fill="#ff1a1a" stroke="none" stroke-width="0"/>
<circle cx="533.52" cy="300.42" r="2.35" fill="#ff1a1a" stroke="none" stroke-width="0"/>
<circle cx="539.52" cy="300.51" r="2.35" fill="#ff1a1a" stroke="none" stroke-width="0"/>
<circle cx="545.52" cy="298.77" r="2.35" fill="#ff1a1a" stroke="none" stroke-width="0"/>
<circle cx="551.53" cy="295.9" r="2.35" fill="#ff1a1a" stroke="none" stroke-width="0"/>
<circle cx="557.53" cy="293.29" r="2.35" fill="#ff1a1a" stroke="none" stroke-width="0"/>
<circle cx="569.54" cy="291.2" r="2.35" fill="#ff1a1a" stroke="none" stroke-width="0"/>
<circle cx="581.54" cy="286.33" r="2.35" fill="#ff1a1a" stroke="none" stroke-width="0"/>
<circle cx="593.55" cy="282.67" r="2.35" fill="#ff1a1a" stroke="none" stroke-width="0"/>
<circle cx="605.55" cy="279.19" r="2.35" fill="#ff1a1a" stroke="none" stroke-width="0"/>
<circle cx="617.56" cy="275.02" r="2.35" fill="#ff1a1a" stroke="none" stroke-width="0"/>
<circle cx="629.57" cy="269.97" r="2.35" fill="#ff1a1a" stroke="none" stroke-width="0"/>
<circle cx="641.57" cy="266.49" r="2.35" fill="#ff1a1a" stroke="none" stroke-width="0"/>
<circle cx="653.58" cy="263.53" r="2.35" fill="#ff1a1a" stroke="none" stroke-width="0"/>
<circle cx="670.39" cy="259.53" r="2.35" fill="#ff1a1a" stroke="none" stroke-width="0"/>
<circle cx="677.59" cy="257.18" r="2.35" fill="#ff1a1a" stroke="none" stroke-width="0"/>
<path d="M497.5,303.9 L499,306.07 L500.5,307.73 L502,308.69 L503.5,309.21 L505,309.55 L506.5,309.82 L508.01,309.99 L509.51,310.08 L511.01,310.08 L512.51,310.08 L514.01,309.99 L515.51,309.82 L517.01,309.55 L518.51,309.21 L520.01,308.69 L521.51,308.08 L523.01,307.38 L524.51,306.6 L526.01,305.81 L527.51,304.94 L533.52,302.33 L539.52,298.77 L545.52,294.59 L551.53,289.81 L557.53,285.8 L569.54,276.76 L581.54,268.14 L593.55,258.92 L605.55,252.4 L617.56,245.96 L629.57,239.87 L641.57,235.6 L653.58,232.99 L665.58,229.08 L677.59,225.86" stroke="#5e5e5e" stroke-width="1.1" fill="none" />
<circle cx="497.5" cy="303.9" r="2.35" fill="#5e5e5e" stroke="none" stroke-width="0"/>
<circle cx="499" cy="306.07" r="2.35" fill="#5e5e5e" stroke="none" stroke-width="0"/>
<circle cx="500.5" cy="307.73" r="2.35" fill="#5e5e5e" stroke="none" stroke-width="0"/>
<circle cx="502" cy="308.69" r="2.35" fill="#5e5e5e" stroke="none" stroke-width="0"/>
<circle cx="503.5" cy="309.21" r="2.35" fill="#5e5e5e" stroke="none" stroke-width="0"/>
<circle cx="505" cy="309.55" r="2.35" fill="#5e5e5e" stroke="none" stroke-width="0"/>
<circle cx="506.5" cy="309.82" r="2.35" fill="#5e5e5e" stroke="none" stroke-width="0"/>
<circle cx="508.01" cy="309.99" r="2.35" fill="#5e5e5e" stroke="none" stroke-width="0"/>
<circle cx="509.51" cy="310.08" r="2.35" fill="#5e5e5e" stroke="none" stroke-width="0"/>
<circle cx="511.01" cy="310.08" r="2.35" fill="#5e5e5e" stroke="none" stroke-width="0"/>
<circle cx="512.51" cy="310.08" r="2.35" fill="#5e5e5e" stroke="none" stroke-width="0"/>
<circle cx="514.01" cy="309.99" r="2.35" fill="#5e5e5e" stroke="none" stroke-width="0"/>
<circle cx="515.51" cy="309.82" r="2.35" fill="#5e5e5e" stroke="none" stroke-width="0"/>
<circle cx="517.01" cy="309.55" r="2.35" fill="#5e5e5e" stroke="none" stroke-width="0"/>
<circle cx="518.51" cy="309.21" r="2.35" fill="#5e5e5e" stroke="none" stroke-width="0"/>
<circle cx="520.01" cy="308.69" r="2.35" fill="#5e5e5e" stroke="none" stroke-width="0"/>
<circle cx="521.51" cy="308.08" r="2.35" fill="#5e5e5e" stroke="none" stroke-width="0"/>
<circle cx="523.01" cy="307.38" r="2.35" fill="#5e5e5e" stroke="none" stroke-width="0"/>
<circle cx="524.51" cy="306.6" r="2.35" fill="#5e5e5e" stroke="none" stroke-width="0"/>
<circle cx="526.01" cy="305.81" r="2.35" fill="#5e5e5e" stroke="none" stroke-width="0"/>
<circle cx="527.51" cy="304.94" r="2.35" fill="#5e5e5e" stroke="none" stroke-width="0"/>
<circle cx="533.52" cy="302.33" r="2.35" fill="#5e5e5e" stroke="none" stroke-width="0"/>
<circle cx="539.52" cy="298.77" r="2.35" fill="#5e5e5e" stroke="none" stroke-width="0"/>
<circle cx="545.52" cy="294.59" r="2.35" fill="#5e5e5e" stroke="none" stroke-width="0"/>
<circle cx="551.53" cy="289.81" r="2.35" fill="#5e5e5e" stroke="none" stroke-width="0"/>
<circle cx="557.53" cy="285.8" r="2.35" fill="#5e5e5e" stroke="none" stroke-width="0"/>
<circle cx="569.54" cy="276.76" r="2.35" fill="#5e5e5e" stroke="none" stroke-width="0"/>
<circle cx="581.54" cy="268.14" r="2.35" fill="#5e5e5e" stroke="none" stroke-width="0"/>
<circle cx="593.55" cy="258.92" r="2.35" fill="#5e5e5e" stroke="none" stroke-width="0"/>
<circle cx="605.55" cy="252.4" r="2.35" fill="#5e5e5e" stroke="none" stroke-width="0"/>
<circle cx="617.56" cy="245.96" r="2.35" fill="#5e5e5e" stroke="none" stroke-width="0"/>
<circle cx="629.57" cy="239.87" r="2.35" fill="#5e5e5e" stroke="none" stroke-width="0"/>
<circle cx="641.57" cy="235.6" r="2.35" fill="#5e5e5e" stroke="none" stroke-width="0"/>
<circle cx="653.58" cy="232.99" r="2.35" fill="#5e5e5e" stroke="none" stroke-width="0"/>
<circle cx="665.58" cy="229.08" r="2.35" fill="#5e5e5e" stroke="none" stroke-width="0"/>
<circle cx="677.59" cy="225.86" r="2.35" fill="#5e5e5e" stroke="none" stroke-width="0"/>
<path d="M497.5,303.9 L503.5,303.9 L509.51,303.9 L515.51,303.9 L521.51,303.9 L527.51,303.9 L533.52,303.73 L539.52,304.16 L545.52,304.16 L551.53,303.73 L557.53,303.46 L569.54,303.2 L581.54,303.38 L593.55,303.46 L605.55,303.46 L617.56,303.64 L629.57,303.46 L641.57,301.9 L653.58,300.94 L665.58,301.64 L677.59,303.03" stroke="#0a0a0a" stroke-width="1.1" fill="none" />
<circle cx="497.5" cy="303.9" r="2.35" fill="#0a0a0a" stroke="none" stroke-width="0"/>
<circle cx="503.5" cy="303.9" r="2.35" fill="#0a0a0a" stroke="none" stroke-width="0"/>
<circle cx="509.51" cy="303.9" r="2.35" fill="#0a0a0a" stroke="none" stroke-width="0"/>
<circle cx="515.51" cy="303.9" r="2.35" fill="#0a0a0a" stroke="none" stroke-width="0"/>
<circle cx="521.51" cy="303.9" r="2.35" fill="#0a0a0a" stroke="none" stroke-width="0"/>
<circle cx="527.51" cy="303.9" r="2.35" fill="#0a0a0a" stroke="none" stroke-width="0"/>
<circle cx="533.52" cy="303.73" r="2.35" fill="#0a0a0a" stroke="none" stroke-width="0"/>
<circle cx="539.52" cy="304.16" r="2.35" fill="#0a0a0a" stroke="none" stroke-width="0"/>
<circle cx="545.52" cy="304.16" r="2.35" fill="#0a0a0a" stroke="none" stroke-width="0"/>
<circle cx="551.53" cy="303.73" r="2.35" fill="#0a0a0a" stroke="none" stroke-width="0"/>
<circle cx="557.53" cy="303.46" r="2.35" fill="#0a0a0a" stroke="none" stroke-width="0"/>
<circle cx="569.54" cy="303.2" r="2.35" fill="#0a0a0a" stroke="none" stroke-width="0"/>
<circle cx="581.54" cy="303.38" r="2.35" fill="#0a0a0a" stroke="none" stroke-width="0"/>
<circle cx="593.55" cy="303.46" r="2.35" fill="#0a0a0a" stroke="none" stroke-width="0"/>
<circle cx="605.55" cy="303.46" r="2.35" fill="#0a0a0a" stroke="none" stroke-width="0"/>
<circle cx="617.56" cy="303.64" r="2.35" fill="#0a0a0a" stroke="none" stroke-width="0"/>
<circle cx="629.57" cy="303.46" r="2.35" fill="#0a0a0a" stroke="none" stroke-width="0"/>
<circle cx="641.57" cy="301.9" r="2.35" fill="#0a0a0a" stroke="none" stroke-width="0"/>
<circle cx="653.58" cy="300.94" r="2.35" fill="#0a0a0a" stroke="none" stroke-width="0"/>
<circle cx="665.58" cy="301.64" r="2.35" fill="#0a0a0a" stroke="none" stroke-width="0"/>
<circle cx="677.59" cy="303.03" r="2.35" fill="#0a0a0a" stroke="none" stroke-width="0"/>
<text transform="translate(638.2,201.2) scale(0.95,1)" font-size="10.12" text-anchor="end" fill="#b01418" stroke="#b01418" font-weight="normal" >100 - 300 ns</text>
<text transform="translate(670,225.5) scale(0.95,1)" font-size="10.12" text-anchor="end" fill="#5e5e5e" stroke="#5e5e5e" font-weight="normal" >40 - 60 ns</text>
<text transform="translate(667.6,258.7) scale(0.95,1)" font-size="10.12" text-anchor="end" fill="#ff1a1a" stroke="#ff1a1a" font-weight="normal" >1 - 2 µs</text>
<text transform="translate(671.1,295.7) scale(0.95,1)" font-size="10.12" text-anchor="end" fill="#111" stroke="#111" font-weight="normal" >5 - 15 ns</text>
</svg>
</body></html>
